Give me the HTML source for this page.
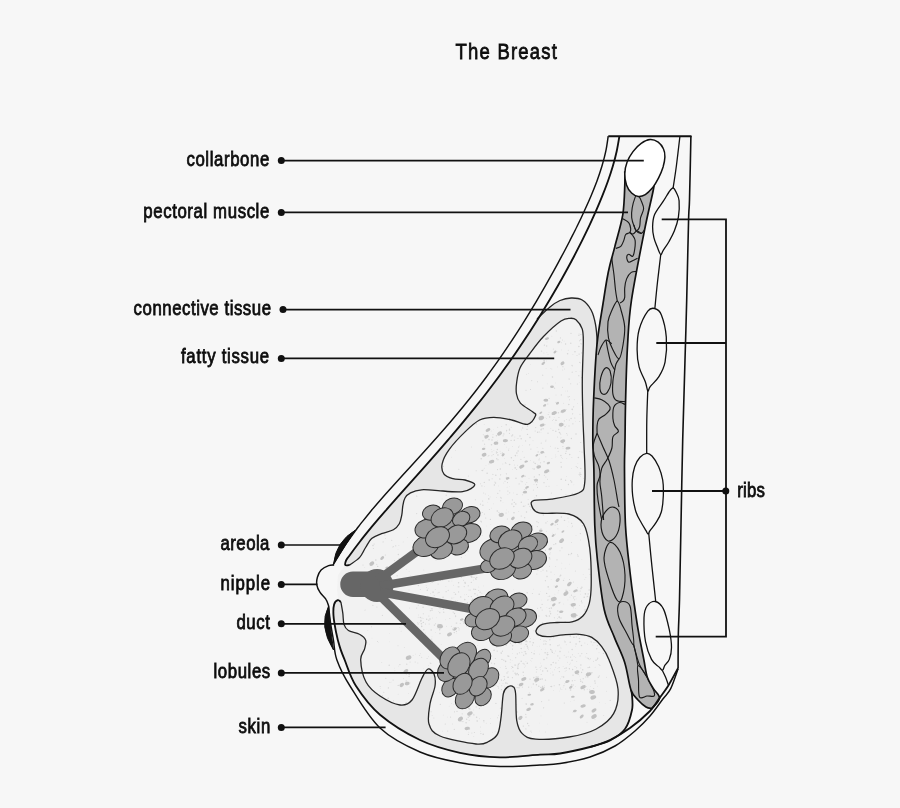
<!DOCTYPE html>
<html><head><meta charset="utf-8"><style>
html,body{margin:0;padding:0;background:#f7f7f7;}
svg{display:block;filter:grayscale(1);}
text{font-family:"Liberation Sans",sans-serif;}
</style></head><body>
<svg width="900" height="808" viewBox="0 0 900 808">
<defs><clipPath id="fatclip"><path d="M349.8,564.9 C351.4,563.6 357.1,560.3 359.7,557.4 C362.3,554.5 363.6,550.6 365.6,547.5 C367.6,544.4 369.0,540.9 371.6,538.6 C374.2,536.3 377.9,535.2 381.5,533.7 C385.1,532.2 390.4,531.4 393.4,529.7 C396.4,528.1 397.9,526.3 399.3,523.8 C400.7,521.3 401.2,517.9 401.8,514.9 C402.4,511.9 402.3,508.7 402.8,505.9 C403.3,503.1 403.7,500.2 405.0,498.0 C406.3,495.8 407.7,494.3 410.5,492.9 C413.3,491.5 417.5,490.2 421.6,489.8 C425.7,489.4 428.2,490.1 435.0,490.4 C441.8,490.7 456.0,492.6 462.6,491.7 C469.2,490.8 474.4,486.8 474.8,484.8 C475.2,482.9 468.6,481.0 465.0,480.0 C461.4,479.0 456.4,479.7 452.9,478.7 C449.4,477.7 445.8,476.7 444.0,474.2 C442.2,471.7 441.3,467.8 442.2,463.6 C443.1,459.5 445.4,454.6 449.3,449.3 C453.2,444.0 460.2,436.5 465.3,431.6 C470.4,426.7 474.9,422.4 479.6,420.0 C484.4,417.6 488.5,417.3 493.8,417.3 C499.1,417.3 506.0,418.8 511.6,420.0 C517.2,421.2 523.6,425.1 527.6,424.4 C531.6,423.7 534.7,417.7 535.6,415.6 C536.5,413.5 535.4,414.1 532.9,412.0 C530.4,409.9 523.1,406.1 520.4,403.1 C517.7,400.1 517.1,397.5 516.5,394.0 C515.9,390.5 516.1,386.3 516.7,382.0 C517.3,377.7 517.9,372.7 520.0,368.0 C522.1,363.3 525.6,359.2 529.5,354.0 C533.4,348.8 538.2,342.0 543.5,336.5 C548.8,331.0 556.6,324.0 561.0,321.0 C565.4,318.0 567.5,318.5 570.0,318.3 C572.5,318.1 574.0,318.0 576.0,319.8 C578.0,321.6 581.0,325.2 582.2,328.9 C583.4,332.6 583.3,333.4 583.3,342.2 C583.3,351.0 582.3,368.9 582.3,381.9 C582.2,394.9 582.7,409.5 583.0,420.0 C583.3,430.5 583.7,434.5 584.0,444.8 C584.3,455.1 585.7,473.9 584.8,481.9 C583.9,489.9 584.2,490.1 578.6,493.0 C573.0,495.9 558.8,498.0 551.4,499.2 C544.0,500.4 537.3,499.4 534.0,500.4 C530.7,501.4 530.8,503.3 531.6,505.4 C532.4,507.5 532.8,511.4 539.0,512.8 C545.2,514.2 561.3,512.1 568.7,514.0 C576.1,515.9 580.1,518.2 583.6,524.0 C587.1,529.8 588.5,538.6 589.8,548.7 C591.1,558.8 591.3,575.7 591.2,584.8 C591.1,593.9 590.6,598.1 589.3,603.3 C587.9,608.4 586.0,612.6 583.1,615.7 C580.2,618.8 576.3,620.8 572.0,621.9 C567.7,623.0 562.1,622.1 557.1,622.5 C552.1,622.9 545.8,623.1 542.3,624.4 C538.8,625.7 536.7,628.8 536.1,630.5 C535.5,632.2 536.8,633.9 538.6,634.9 C540.5,635.9 543.1,636.7 547.2,636.7 C551.3,636.7 557.9,635.3 563.3,634.9 C568.7,634.5 574.6,633.9 579.4,634.3 C584.1,634.7 588.1,635.3 591.8,637.4 C595.5,639.5 598.8,642.8 601.7,646.6 C604.6,650.4 606.4,652.9 609.1,660.0 C611.8,667.1 617.2,680.1 618.0,689.0 C618.8,697.9 617.3,706.9 613.6,713.6 C609.9,720.3 603.2,725.3 595.8,729.2 C588.4,733.1 579.0,735.3 569.0,737.0 C559.0,738.7 543.5,739.8 535.7,739.2 C527.9,738.6 525.5,736.8 522.3,733.6 C519.1,730.5 517.8,727.0 516.7,720.3 C515.6,713.6 516.2,699.1 515.6,693.5 C515.0,687.9 514.7,688.0 513.4,686.9 C512.1,685.8 509.5,685.8 507.8,686.9 C506.1,688.0 504.5,688.7 503.4,693.5 C502.3,698.3 502.1,709.1 501.2,715.8 C500.3,722.5 499.9,729.3 497.8,733.6 C495.8,737.9 492.5,739.7 488.9,741.4 C485.3,743.1 484.1,744.9 476.0,744.0 C467.9,743.1 447.8,739.3 440.0,736.0 C432.2,732.7 430.7,729.3 429.0,724.0 C427.3,718.7 429.0,710.3 430.0,704.0 C431.0,697.7 434.3,691.0 435.0,686.0 C435.7,681.0 435.2,676.8 434.0,674.0 C432.8,671.2 430.0,668.3 428.0,669.0 C426.0,669.7 424.7,672.8 422.0,678.0 C419.3,683.2 415.7,695.5 412.0,700.0 C408.3,704.5 405.3,705.7 400.0,705.0 C394.7,704.3 385.7,699.8 380.0,696.0 C374.3,692.2 369.2,688.0 366.0,682.0 C362.8,676.0 360.9,665.5 360.7,660.0 C360.4,654.5 363.7,652.4 364.5,649.1 C365.3,645.8 366.5,642.9 365.7,640.4 C364.9,637.9 362.4,635.9 359.5,634.3 C356.6,632.6 351.0,632.1 348.4,630.5 C345.8,628.9 344.9,627.3 344.0,624.4 C343.1,621.5 343.3,616.9 342.8,613.2 C342.3,609.5 341.2,603.9 340.9,602.0 L338,598 L337,590 L338,575 L345.3,565 Z"/></clipPath><clipPath id="pecclip"><path d="M624.8,172.0 C624.8,174.2 625.1,177.9 624.8,185.0 C624.5,192.1 624.4,204.5 622.8,214.7 C621.1,224.9 617.0,238.0 614.9,246.4 C612.8,254.8 611.2,259.4 609.9,265.0 C608.5,270.6 607.8,274.2 606.8,280.0 C605.8,285.8 605.2,289.3 603.6,300.0 C602.0,310.7 598.7,327.7 597.0,344.4 C595.3,361.1 594.3,384.1 593.6,400.0 C592.9,415.9 592.8,428.3 592.8,440.0 C592.8,451.7 593.6,455.7 593.9,470.0 C594.2,484.3 594.2,510.7 594.8,525.7 C595.4,540.7 595.8,546.0 597.4,560.0 C599.0,574.0 601.4,596.6 604.2,609.5 C607.0,622.4 610.9,628.3 614.3,637.1 C617.7,645.9 621.9,653.6 624.7,662.4 C627.5,671.2 628.8,683.7 631.0,690.0 C633.2,696.3 635.5,697.2 638.0,700.0 C640.5,702.8 643.7,705.6 646.0,707.0 C648.3,708.4 651.0,708.2 652.0,708.5  C653.2,706.8 659.3,701.4 659.5,698.1 C659.7,694.8 655.4,692.1 653.4,688.6 C651.4,685.1 648.9,682.1 647.3,677.3 C645.7,672.5 645.4,667.9 643.9,660.0 C642.4,652.1 639.8,639.7 638.1,629.7 C636.4,619.7 635.0,609.6 633.6,600.0 C632.2,590.4 631.4,584.4 630.0,572.0 C628.6,559.6 626.4,542.7 625.5,525.7 C624.6,508.7 624.6,484.3 624.5,470.0 C624.4,455.7 624.8,451.7 625.0,440.0 C625.2,428.3 625.2,415.9 625.6,400.0 C626.0,384.1 626.6,361.1 627.6,344.4 C628.6,327.7 628.7,318.9 631.5,300.0 C634.3,281.1 640.8,249.1 644.4,230.8 C648.0,212.5 651.4,199.8 653.3,190.0 C655.2,180.2 655.5,175.0 656.0,172.0Z"/></clipPath></defs>
<rect x="0" y="0" width="900" height="808" fill="#f7f7f7"/>
<path d="M530.2,331.2 C528.5,333.7 523.6,341.2 520.2,346.2 C516.9,351.2 513.4,356.2 509.9,361.2 C506.3,366.2 502.7,371.2 499.1,376.2 C495.4,381.2 491.6,386.2 487.8,391.2 C484.0,396.2 480.1,401.2 476.1,406.2 C472.1,411.2 468.0,416.2 463.9,421.2 C459.8,426.2 455.6,431.2 451.3,436.2 C447.1,441.2 442.7,446.2 438.4,451.2 C434.0,456.2 429.6,461.2 425.2,466.2 C420.7,471.2 416.3,476.2 411.8,481.2 C407.3,486.2 402.8,491.2 398.4,496.2 C394.0,501.2 389.5,506.2 385.2,511.2 C380.8,516.2 376.5,521.2 372.3,526.2 C368.2,531.2 364.1,536.2 360.2,541.2 C356.3,546.2 351.3,553.0 349.0,556.2 C346.6,559.4 346.6,559.7 346.1,560.4 L345.3,565 L337.8,600.2  C337.2,600.9 334.8,602.0 334.1,604.6 C333.4,607.2 333.2,611.2 333.5,615.7 C333.8,620.2 335.0,626.6 336.0,631.8 C337.0,636.9 338.2,641.9 339.7,646.6 C341.1,651.3 342.0,653.4 344.7,660.0 C347.4,666.6 350.1,676.9 356.0,686.0 C361.9,695.1 369.3,705.7 380.0,714.7 C390.7,723.7 406.7,733.6 420.0,740.0 C433.3,746.4 446.7,749.9 460.0,752.8 C473.3,755.7 486.7,757.0 500.0,757.3 C513.3,757.6 530.0,755.3 540.0,754.7 C550.0,754.1 551.7,754.8 560.0,753.5 C568.3,752.2 585.0,748.1 590.0,747.0  C593.3,745.9 604.2,743.5 610.0,740.5 C615.8,737.5 621.3,734.1 625.0,729.0 C628.7,723.9 630.8,715.7 632.0,710.0 C633.2,704.3 632.2,698.3 632.0,695.0 C631.8,691.7 631.2,690.8 631.0,690.0 L624.7,662.4 L614.3,637.1 L604.2,609.5 L597.4,560 L594.8,525.7 L593.9,470 L592.8,440 L593.6,400 L596.8,352  C596.9,350.4 597.4,346.8 597.2,342.2 C597.0,337.6 596.5,329.8 595.5,324.4 C594.5,319.0 593.3,314.1 591.1,310.0 C588.9,305.9 585.5,302.0 582.2,300.0 C578.9,298.0 574.9,297.9 571.2,298.0 C567.5,298.1 563.5,299.0 560.0,300.5 C556.5,302.0 553.8,303.9 550.0,307.0 C546.2,310.1 539.2,317.0 537.0,319.0Z" fill="#e6e6e6"/>
<path d="M349.8,564.9 C351.4,563.6 357.1,560.3 359.7,557.4 C362.3,554.5 363.6,550.6 365.6,547.5 C367.6,544.4 369.0,540.9 371.6,538.6 C374.2,536.3 377.9,535.2 381.5,533.7 C385.1,532.2 390.4,531.4 393.4,529.7 C396.4,528.1 397.9,526.3 399.3,523.8 C400.7,521.3 401.2,517.9 401.8,514.9 C402.4,511.9 402.3,508.7 402.8,505.9 C403.3,503.1 403.7,500.2 405.0,498.0 C406.3,495.8 407.7,494.3 410.5,492.9 C413.3,491.5 417.5,490.2 421.6,489.8 C425.7,489.4 428.2,490.1 435.0,490.4 C441.8,490.7 456.0,492.6 462.6,491.7 C469.2,490.8 474.4,486.8 474.8,484.8 C475.2,482.9 468.6,481.0 465.0,480.0 C461.4,479.0 456.4,479.7 452.9,478.7 C449.4,477.7 445.8,476.7 444.0,474.2 C442.2,471.7 441.3,467.8 442.2,463.6 C443.1,459.5 445.4,454.6 449.3,449.3 C453.2,444.0 460.2,436.5 465.3,431.6 C470.4,426.7 474.9,422.4 479.6,420.0 C484.4,417.6 488.5,417.3 493.8,417.3 C499.1,417.3 506.0,418.8 511.6,420.0 C517.2,421.2 523.6,425.1 527.6,424.4 C531.6,423.7 534.7,417.7 535.6,415.6 C536.5,413.5 535.4,414.1 532.9,412.0 C530.4,409.9 523.1,406.1 520.4,403.1 C517.7,400.1 517.1,397.5 516.5,394.0 C515.9,390.5 516.1,386.3 516.7,382.0 C517.3,377.7 517.9,372.7 520.0,368.0 C522.1,363.3 525.6,359.2 529.5,354.0 C533.4,348.8 538.2,342.0 543.5,336.5 C548.8,331.0 556.6,324.0 561.0,321.0 C565.4,318.0 567.5,318.5 570.0,318.3 C572.5,318.1 574.0,318.0 576.0,319.8 C578.0,321.6 581.0,325.2 582.2,328.9 C583.4,332.6 583.3,333.4 583.3,342.2 C583.3,351.0 582.3,368.9 582.3,381.9 C582.2,394.9 582.7,409.5 583.0,420.0 C583.3,430.5 583.7,434.5 584.0,444.8 C584.3,455.1 585.7,473.9 584.8,481.9 C583.9,489.9 584.2,490.1 578.6,493.0 C573.0,495.9 558.8,498.0 551.4,499.2 C544.0,500.4 537.3,499.4 534.0,500.4 C530.7,501.4 530.8,503.3 531.6,505.4 C532.4,507.5 532.8,511.4 539.0,512.8 C545.2,514.2 561.3,512.1 568.7,514.0 C576.1,515.9 580.1,518.2 583.6,524.0 C587.1,529.8 588.5,538.6 589.8,548.7 C591.1,558.8 591.3,575.7 591.2,584.8 C591.1,593.9 590.6,598.1 589.3,603.3 C587.9,608.4 586.0,612.6 583.1,615.7 C580.2,618.8 576.3,620.8 572.0,621.9 C567.7,623.0 562.1,622.1 557.1,622.5 C552.1,622.9 545.8,623.1 542.3,624.4 C538.8,625.7 536.7,628.8 536.1,630.5 C535.5,632.2 536.8,633.9 538.6,634.9 C540.5,635.9 543.1,636.7 547.2,636.7 C551.3,636.7 557.9,635.3 563.3,634.9 C568.7,634.5 574.6,633.9 579.4,634.3 C584.1,634.7 588.1,635.3 591.8,637.4 C595.5,639.5 598.8,642.8 601.7,646.6 C604.6,650.4 606.4,652.9 609.1,660.0 C611.8,667.1 617.2,680.1 618.0,689.0 C618.8,697.9 617.3,706.9 613.6,713.6 C609.9,720.3 603.2,725.3 595.8,729.2 C588.4,733.1 579.0,735.3 569.0,737.0 C559.0,738.7 543.5,739.8 535.7,739.2 C527.9,738.6 525.5,736.8 522.3,733.6 C519.1,730.5 517.8,727.0 516.7,720.3 C515.6,713.6 516.2,699.1 515.6,693.5 C515.0,687.9 514.7,688.0 513.4,686.9 C512.1,685.8 509.5,685.8 507.8,686.9 C506.1,688.0 504.5,688.7 503.4,693.5 C502.3,698.3 502.1,709.1 501.2,715.8 C500.3,722.5 499.9,729.3 497.8,733.6 C495.8,737.9 492.5,739.7 488.9,741.4 C485.3,743.1 484.1,744.9 476.0,744.0 C467.9,743.1 447.8,739.3 440.0,736.0 C432.2,732.7 430.7,729.3 429.0,724.0 C427.3,718.7 429.0,710.3 430.0,704.0 C431.0,697.7 434.3,691.0 435.0,686.0 C435.7,681.0 435.2,676.8 434.0,674.0 C432.8,671.2 430.0,668.3 428.0,669.0 C426.0,669.7 424.7,672.8 422.0,678.0 C419.3,683.2 415.7,695.5 412.0,700.0 C408.3,704.5 405.3,705.7 400.0,705.0 C394.7,704.3 385.7,699.8 380.0,696.0 C374.3,692.2 369.2,688.0 366.0,682.0 C362.8,676.0 360.9,665.5 360.7,660.0 C360.4,654.5 363.7,652.4 364.5,649.1 C365.3,645.8 366.5,642.9 365.7,640.4 C364.9,637.9 362.4,635.9 359.5,634.3 C356.6,632.6 351.0,632.1 348.4,630.5 C345.8,628.9 344.9,627.3 344.0,624.4 C343.1,621.5 343.3,616.9 342.8,613.2 C342.3,609.5 341.2,603.9 340.9,602.0 L338,598 L337,590 L338,575 L345.3,565 Z" fill="#f2f2f2"/>
<g fill="#d6d6d6" clip-path="url(#fatclip)"><circle cx="566.2" cy="657.1" r="0.59"/><circle cx="542.6" cy="686.5" r="0.66"/><circle cx="586.4" cy="686.5" r="0.47"/><circle cx="551.5" cy="686.6" r="0.73"/><circle cx="505.1" cy="637.3" r="0.55"/><circle cx="498.0" cy="644.4" r="0.38"/><circle cx="563.6" cy="677.0" r="0.75"/><circle cx="507.0" cy="673.0" r="0.65"/><circle cx="505.7" cy="683.0" r="0.79"/><circle cx="514.2" cy="687.2" r="0.53"/><circle cx="543.6" cy="689.4" r="0.72"/><circle cx="507.8" cy="655.9" r="0.58"/><circle cx="527.3" cy="641.7" r="0.49"/><circle cx="569.4" cy="631.2" r="0.60"/><circle cx="538.5" cy="631.1" r="0.50"/><circle cx="558.6" cy="660.7" r="0.38"/><circle cx="598.4" cy="677.3" r="0.79"/><circle cx="501.5" cy="645.9" r="0.37"/><circle cx="575.7" cy="646.2" r="0.41"/><circle cx="536.4" cy="684.7" r="0.72"/><circle cx="518.4" cy="639.0" r="0.76"/><circle cx="552.8" cy="672.0" r="0.39"/><circle cx="496.3" cy="671.3" r="0.54"/><circle cx="498.0" cy="686.3" r="0.64"/><circle cx="578.2" cy="635.0" r="0.74"/><circle cx="497.3" cy="681.8" r="0.55"/><circle cx="527.3" cy="663.2" r="0.77"/><circle cx="519.5" cy="637.8" r="0.59"/><circle cx="516.2" cy="636.6" r="0.42"/><circle cx="495.5" cy="642.1" r="0.49"/><circle cx="523.6" cy="675.6" r="0.48"/><circle cx="545.0" cy="640.7" r="0.51"/><circle cx="492.0" cy="645.0" r="0.36"/><circle cx="570.6" cy="663.1" r="0.44"/><circle cx="542.2" cy="686.1" r="0.40"/><circle cx="580.1" cy="655.9" r="0.57"/><circle cx="581.8" cy="653.6" r="0.58"/><circle cx="565.7" cy="688.9" r="0.50"/><circle cx="581.6" cy="672.4" r="0.64"/><circle cx="534.5" cy="650.9" r="0.37"/><circle cx="504.3" cy="634.2" r="0.68"/><circle cx="518.1" cy="639.8" r="0.39"/><circle cx="582.5" cy="682.2" r="0.65"/><circle cx="521.0" cy="644.5" r="0.48"/><circle cx="540.5" cy="639.5" r="0.55"/><circle cx="519.0" cy="687.7" r="0.79"/><circle cx="550.2" cy="644.7" r="0.78"/><circle cx="524.1" cy="651.4" r="0.35"/><circle cx="532.0" cy="658.5" r="0.58"/><circle cx="512.1" cy="660.3" r="0.35"/><circle cx="519.1" cy="635.4" r="0.53"/><circle cx="494.6" cy="631.3" r="0.49"/><circle cx="515.6" cy="665.1" r="0.59"/><circle cx="572.6" cy="669.5" r="0.67"/><circle cx="586.7" cy="653.4" r="0.50"/><circle cx="598.3" cy="639.0" r="0.68"/><circle cx="560.8" cy="632.6" r="0.73"/><circle cx="588.1" cy="667.6" r="0.68"/><circle cx="579.3" cy="638.4" r="0.59"/><circle cx="545.5" cy="680.1" r="0.71"/><circle cx="580.9" cy="665.0" r="0.75"/><circle cx="565.1" cy="671.6" r="0.45"/><circle cx="493.4" cy="638.0" r="0.51"/><circle cx="501.5" cy="680.1" r="0.60"/><circle cx="559.1" cy="667.6" r="0.66"/><circle cx="543.8" cy="630.2" r="0.71"/><circle cx="572.3" cy="660.2" r="0.59"/><circle cx="562.5" cy="634.0" r="0.68"/><circle cx="517.7" cy="634.5" r="0.47"/><circle cx="570.2" cy="642.3" r="0.68"/><circle cx="597.3" cy="659.6" r="0.52"/><circle cx="542.7" cy="671.0" r="0.70"/><circle cx="557.9" cy="668.6" r="0.38"/><circle cx="506.2" cy="645.2" r="0.68"/><circle cx="523.5" cy="664.1" r="0.36"/><circle cx="496.7" cy="646.1" r="0.65"/><circle cx="566.1" cy="670.5" r="0.48"/><circle cx="546.8" cy="657.9" r="0.56"/><circle cx="503.0" cy="683.6" r="0.44"/><circle cx="597.6" cy="686.2" r="0.36"/><circle cx="540.5" cy="679.2" r="0.79"/><circle cx="539.4" cy="646.1" r="0.44"/><circle cx="594.0" cy="642.6" r="0.61"/><circle cx="505.6" cy="661.4" r="0.78"/><circle cx="504.6" cy="679.2" r="0.58"/><circle cx="587.6" cy="672.2" r="0.45"/><circle cx="588.7" cy="659.2" r="0.36"/><circle cx="490.4" cy="659.5" r="0.55"/><circle cx="523.2" cy="638.4" r="0.50"/><circle cx="524.8" cy="680.4" r="0.35"/><circle cx="572.6" cy="680.3" r="0.40"/><circle cx="591.9" cy="672.8" r="0.76"/><circle cx="521.9" cy="652.3" r="0.53"/><circle cx="599.9" cy="665.4" r="0.51"/><circle cx="537.1" cy="646.5" r="0.37"/><circle cx="501.2" cy="680.1" r="0.48"/><circle cx="592.9" cy="645.0" r="0.47"/><circle cx="546.2" cy="641.4" r="0.52"/><circle cx="595.2" cy="683.1" r="0.72"/><circle cx="559.4" cy="684.8" r="0.77"/><circle cx="550.4" cy="673.2" r="0.37"/><circle cx="570.6" cy="657.1" r="0.69"/><circle cx="560.9" cy="647.2" r="0.37"/><circle cx="591.9" cy="637.6" r="0.56"/><circle cx="527.8" cy="647.9" r="0.68"/><circle cx="597.4" cy="645.6" r="0.65"/><circle cx="523.1" cy="663.4" r="0.53"/><circle cx="508.4" cy="639.7" r="0.44"/><circle cx="589.7" cy="659.8" r="0.45"/><circle cx="589.7" cy="689.8" r="0.55"/><circle cx="505.4" cy="641.5" r="0.39"/><circle cx="527.6" cy="635.5" r="0.46"/><circle cx="518.4" cy="664.2" r="0.75"/><circle cx="572.5" cy="654.8" r="0.54"/><circle cx="547.7" cy="652.6" r="0.50"/><circle cx="496.8" cy="646.7" r="0.79"/><circle cx="503.8" cy="660.2" r="0.63"/><circle cx="584.9" cy="643.0" r="0.47"/><circle cx="517.3" cy="654.0" r="0.55"/><circle cx="594.9" cy="680.9" r="0.74"/><circle cx="492.4" cy="631.9" r="0.67"/><circle cx="588.5" cy="658.4" r="0.61"/><circle cx="490.0" cy="653.5" r="0.77"/><circle cx="580.8" cy="681.3" r="0.79"/><circle cx="517.3" cy="636.5" r="0.42"/><circle cx="547.5" cy="670.9" r="0.77"/><circle cx="569.4" cy="668.8" r="0.69"/><circle cx="540.3" cy="663.1" r="0.37"/><circle cx="576.1" cy="644.0" r="0.76"/><circle cx="561.0" cy="648.2" r="0.41"/><circle cx="517.7" cy="668.2" r="0.66"/><circle cx="502.3" cy="634.2" r="0.59"/><circle cx="554.1" cy="653.3" r="0.45"/><circle cx="556.1" cy="630.6" r="0.49"/><circle cx="540.7" cy="687.5" r="0.64"/><circle cx="587.2" cy="658.5" r="0.46"/><circle cx="517.2" cy="687.6" r="0.67"/><circle cx="523.8" cy="631.3" r="0.57"/><circle cx="564.2" cy="655.2" r="0.47"/><circle cx="563.4" cy="685.5" r="0.45"/><circle cx="493.8" cy="650.3" r="0.54"/><circle cx="565.1" cy="641.9" r="0.71"/><circle cx="571.3" cy="660.3" r="0.44"/><circle cx="596.7" cy="648.7" r="0.72"/><circle cx="515.4" cy="643.3" r="0.69"/><circle cx="522.4" cy="687.1" r="0.57"/><circle cx="510.6" cy="643.4" r="0.54"/><circle cx="563.2" cy="686.9" r="0.42"/><circle cx="533.3" cy="642.8" r="0.79"/><circle cx="505.6" cy="633.1" r="0.38"/><circle cx="533.3" cy="683.9" r="0.75"/><circle cx="570.6" cy="689.9" r="0.77"/><circle cx="526.2" cy="641.1" r="0.77"/><circle cx="572.1" cy="631.9" r="0.65"/><circle cx="531.6" cy="652.4" r="0.50"/><circle cx="508.6" cy="630.2" r="0.48"/><circle cx="528.7" cy="687.3" r="0.41"/><circle cx="596.1" cy="642.4" r="0.51"/><circle cx="580.4" cy="679.3" r="0.54"/><circle cx="495.4" cy="658.4" r="0.52"/><circle cx="591.1" cy="641.6" r="0.51"/><circle cx="588.7" cy="631.8" r="0.53"/><circle cx="579.3" cy="676.0" r="0.37"/><circle cx="493.8" cy="633.8" r="0.76"/><circle cx="518.3" cy="674.8" r="0.75"/><circle cx="527.3" cy="646.3" r="0.78"/><circle cx="557.9" cy="645.7" r="0.67"/><circle cx="524.8" cy="646.5" r="0.35"/><circle cx="573.1" cy="685.0" r="0.64"/><circle cx="593.8" cy="631.5" r="0.46"/><circle cx="542.3" cy="687.4" r="0.78"/><circle cx="532.5" cy="645.1" r="0.54"/><circle cx="544.3" cy="685.7" r="0.43"/><circle cx="578.3" cy="674.3" r="0.72"/><circle cx="575.0" cy="666.4" r="0.50"/><circle cx="525.2" cy="651.7" r="0.70"/><circle cx="498.7" cy="641.8" r="0.69"/><circle cx="517.2" cy="633.9" r="0.37"/><circle cx="550.8" cy="649.5" r="0.79"/><circle cx="587.2" cy="689.3" r="0.47"/><circle cx="499.2" cy="635.8" r="0.57"/><circle cx="568.1" cy="656.8" r="0.46"/><circle cx="535.9" cy="667.2" r="0.65"/><circle cx="572.3" cy="680.8" r="0.65"/><circle cx="503.3" cy="680.5" r="0.48"/><circle cx="552.4" cy="652.4" r="0.68"/><circle cx="511.9" cy="644.8" r="0.46"/><circle cx="506.9" cy="683.1" r="0.61"/><circle cx="525.9" cy="653.8" r="0.80"/><circle cx="545.8" cy="643.9" r="0.71"/><circle cx="561.9" cy="689.5" r="0.40"/><circle cx="542.2" cy="679.1" r="0.73"/><circle cx="590.6" cy="632.4" r="0.48"/><circle cx="503.1" cy="641.4" r="0.79"/><circle cx="554.2" cy="685.8" r="0.52"/><circle cx="585.3" cy="656.9" r="0.47"/><circle cx="575.6" cy="686.7" r="0.40"/><circle cx="555.6" cy="667.2" r="0.45"/><circle cx="530.6" cy="638.5" r="0.44"/><circle cx="518.0" cy="666.0" r="0.64"/><circle cx="512.4" cy="630.7" r="0.50"/><circle cx="564.6" cy="641.1" r="0.49"/><circle cx="512.4" cy="677.7" r="0.60"/><circle cx="497.0" cy="636.1" r="0.53"/><circle cx="550.5" cy="668.4" r="0.39"/><circle cx="508.0" cy="671.7" r="0.53"/><circle cx="521.2" cy="648.5" r="0.78"/><circle cx="524.4" cy="664.0" r="0.51"/><circle cx="535.8" cy="681.9" r="0.80"/><circle cx="530.0" cy="641.8" r="0.68"/><circle cx="512.4" cy="630.4" r="0.76"/><circle cx="536.6" cy="679.2" r="0.53"/><circle cx="587.1" cy="657.7" r="0.42"/><circle cx="491.6" cy="663.1" r="0.64"/><circle cx="590.1" cy="635.3" r="0.63"/><circle cx="530.8" cy="660.3" r="0.42"/><circle cx="521.2" cy="661.3" r="0.77"/><circle cx="502.0" cy="659.4" r="0.71"/><circle cx="596.4" cy="641.8" r="0.41"/><circle cx="593.7" cy="688.5" r="0.57"/><circle cx="495.9" cy="685.6" r="0.52"/><circle cx="589.5" cy="667.2" r="0.72"/><circle cx="507.6" cy="677.1" r="0.45"/><circle cx="534.5" cy="680.8" r="0.72"/><circle cx="510.1" cy="643.1" r="0.53"/><circle cx="547.0" cy="653.0" r="0.41"/><circle cx="517.2" cy="673.5" r="0.75"/><circle cx="494.5" cy="663.7" r="0.69"/><circle cx="494.2" cy="680.3" r="0.40"/><circle cx="555.9" cy="663.0" r="0.63"/><circle cx="523.7" cy="655.2" r="0.61"/><circle cx="536.8" cy="669.5" r="0.55"/><circle cx="538.2" cy="631.4" r="0.63"/><circle cx="543.8" cy="644.1" r="0.69"/><circle cx="575.8" cy="657.5" r="0.43"/><circle cx="542.1" cy="636.4" r="0.41"/><circle cx="537.4" cy="635.5" r="0.55"/><circle cx="546.1" cy="632.4" r="0.64"/><circle cx="499.0" cy="674.0" r="0.70"/><circle cx="546.3" cy="633.3" r="0.58"/><circle cx="531.6" cy="687.1" r="0.41"/><circle cx="584.3" cy="689.8" r="0.68"/><circle cx="579.6" cy="641.6" r="0.79"/><circle cx="544.1" cy="687.4" r="0.76"/><circle cx="508.2" cy="677.3" r="0.77"/><circle cx="497.2" cy="651.1" r="0.69"/><circle cx="507.5" cy="683.8" r="0.47"/><circle cx="579.7" cy="638.6" r="0.58"/><circle cx="591.2" cy="642.5" r="0.47"/><circle cx="545.7" cy="649.1" r="0.37"/><circle cx="510.0" cy="639.7" r="0.77"/><circle cx="564.8" cy="683.7" r="0.43"/><circle cx="576.3" cy="636.9" r="0.59"/><circle cx="560.0" cy="651.6" r="0.74"/><circle cx="551.1" cy="664.8" r="0.75"/><circle cx="501.5" cy="689.6" r="0.63"/><circle cx="533.4" cy="677.9" r="0.47"/><circle cx="599.0" cy="664.6" r="0.51"/><circle cx="574.1" cy="656.5" r="0.43"/><circle cx="571.8" cy="632.9" r="0.72"/><circle cx="517.9" cy="668.4" r="0.79"/><circle cx="554.4" cy="669.8" r="0.49"/><circle cx="490.2" cy="632.0" r="0.42"/><circle cx="557.8" cy="655.9" r="0.58"/><circle cx="588.5" cy="637.9" r="0.45"/><circle cx="561.8" cy="631.3" r="0.35"/><circle cx="529.0" cy="636.4" r="0.51"/><circle cx="514.7" cy="665.0" r="0.62"/><circle cx="512.5" cy="667.4" r="0.56"/><circle cx="504.8" cy="686.2" r="0.46"/><circle cx="506.4" cy="635.7" r="0.64"/><circle cx="585.8" cy="676.9" r="0.53"/><circle cx="519.1" cy="630.7" r="0.64"/><circle cx="551.9" cy="651.0" r="0.64"/><circle cx="538.8" cy="686.2" r="0.68"/><circle cx="517.3" cy="684.2" r="0.37"/><circle cx="548.5" cy="654.4" r="0.46"/><circle cx="496.4" cy="676.7" r="0.36"/><circle cx="550.6" cy="686.5" r="0.41"/><circle cx="511.9" cy="666.5" r="0.58"/><circle cx="560.6" cy="678.8" r="0.43"/><circle cx="524.0" cy="648.0" r="0.37"/><circle cx="587.8" cy="677.0" r="0.67"/><circle cx="490.7" cy="680.7" r="0.69"/><circle cx="541.2" cy="674.5" r="0.55"/><circle cx="514.9" cy="636.3" r="0.45"/><circle cx="494.3" cy="650.1" r="0.69"/><circle cx="566.5" cy="680.7" r="0.67"/><circle cx="519.3" cy="663.2" r="0.55"/><circle cx="576.7" cy="661.4" r="0.47"/><circle cx="560.6" cy="687.9" r="0.45"/><circle cx="586.8" cy="630.9" r="0.47"/><circle cx="516.0" cy="674.6" r="0.78"/><circle cx="572.1" cy="649.6" r="0.75"/><circle cx="526.1" cy="644.4" r="0.76"/><circle cx="559.4" cy="671.6" r="0.65"/><circle cx="597.7" cy="658.2" r="0.73"/><circle cx="566.7" cy="681.5" r="0.55"/><circle cx="569.7" cy="664.2" r="0.49"/><circle cx="513.3" cy="667.4" r="0.39"/><circle cx="590.2" cy="638.7" r="0.36"/><circle cx="501.7" cy="685.7" r="0.51"/><circle cx="505.6" cy="631.7" r="0.37"/><circle cx="566.2" cy="668.0" r="0.66"/><circle cx="571.0" cy="633.9" r="0.62"/><circle cx="530.0" cy="679.1" r="0.72"/><circle cx="588.0" cy="634.0" r="0.74"/><circle cx="590.6" cy="686.7" r="0.40"/><circle cx="512.6" cy="636.7" r="0.37"/><circle cx="583.2" cy="678.7" r="0.64"/><circle cx="580.8" cy="667.9" r="0.48"/><circle cx="501.0" cy="635.9" r="0.69"/><circle cx="512.5" cy="649.1" r="0.54"/><circle cx="492.3" cy="645.4" r="0.48"/><circle cx="568.7" cy="652.1" r="0.49"/><circle cx="596.0" cy="660.2" r="0.73"/><circle cx="558.0" cy="631.9" r="0.54"/><circle cx="538.0" cy="676.4" r="0.51"/><circle cx="567.5" cy="662.3" r="0.45"/><circle cx="584.8" cy="635.5" r="0.72"/><circle cx="508.7" cy="630.1" r="0.44"/><circle cx="573.8" cy="688.7" r="0.35"/><circle cx="544.0" cy="659.5" r="0.71"/><circle cx="510.3" cy="659.7" r="0.51"/><circle cx="581.5" cy="645.6" r="0.77"/><circle cx="521.2" cy="642.9" r="0.66"/><circle cx="544.8" cy="636.6" r="0.64"/><circle cx="498.9" cy="677.3" r="0.66"/><circle cx="576.6" cy="667.7" r="0.51"/><circle cx="534.1" cy="653.7" r="0.75"/><circle cx="499.5" cy="683.3" r="0.36"/><circle cx="512.7" cy="645.8" r="0.76"/><circle cx="545.1" cy="652.8" r="0.75"/><circle cx="515.7" cy="657.7" r="0.59"/><circle cx="573.0" cy="675.2" r="0.64"/><circle cx="528.3" cy="649.6" r="0.42"/><circle cx="582.7" cy="669.7" r="0.68"/><circle cx="508.7" cy="656.3" r="0.70"/><circle cx="553.7" cy="637.6" r="0.56"/><circle cx="587.4" cy="644.3" r="0.44"/><circle cx="523.2" cy="672.2" r="0.73"/><circle cx="507.0" cy="639.4" r="0.46"/><circle cx="525.9" cy="661.3" r="0.42"/><circle cx="526.1" cy="641.4" r="0.79"/><circle cx="570.2" cy="636.1" r="0.78"/><circle cx="501.2" cy="653.1" r="0.79"/><circle cx="577.4" cy="674.0" r="0.55"/><circle cx="511.6" cy="668.3" r="0.40"/><circle cx="512.7" cy="653.3" r="0.37"/><circle cx="533.9" cy="677.5" r="0.66"/><circle cx="545.1" cy="667.9" r="0.56"/><circle cx="505.6" cy="666.2" r="0.53"/><circle cx="571.5" cy="684.5" r="0.54"/><circle cx="553.1" cy="674.9" r="0.54"/><circle cx="515.1" cy="673.3" r="0.75"/><circle cx="575.1" cy="672.0" r="0.73"/><circle cx="564.8" cy="668.5" r="0.55"/><circle cx="524.4" cy="667.7" r="0.39"/><circle cx="536.2" cy="676.9" r="0.67"/><circle cx="559.3" cy="645.0" r="0.54"/><circle cx="540.1" cy="667.3" r="0.53"/><circle cx="564.3" cy="685.8" r="0.43"/><circle cx="562.0" cy="676.7" r="0.52"/><circle cx="543.9" cy="688.5" r="0.37"/><circle cx="549.8" cy="639.7" r="0.70"/><circle cx="593.5" cy="661.2" r="0.40"/><circle cx="553.2" cy="662.5" r="0.67"/><circle cx="546.3" cy="668.4" r="0.72"/><circle cx="547.4" cy="654.6" r="0.78"/><circle cx="513.1" cy="671.1" r="0.53"/><circle cx="573.9" cy="637.3" r="0.79"/><circle cx="529.1" cy="633.4" r="0.47"/><circle cx="534.0" cy="630.8" r="0.54"/><circle cx="536.3" cy="671.9" r="0.51"/><circle cx="519.2" cy="643.5" r="0.68"/><circle cx="593.4" cy="661.6" r="0.45"/><circle cx="578.2" cy="653.5" r="0.45"/><circle cx="504.2" cy="676.6" r="0.71"/><circle cx="559.8" cy="658.1" r="0.60"/><circle cx="514.9" cy="687.8" r="0.51"/><circle cx="456.3" cy="623.1" r="0.72"/><circle cx="446.1" cy="591.7" r="0.60"/><circle cx="425.5" cy="624.0" r="0.51"/><circle cx="469.0" cy="590.0" r="0.52"/><circle cx="433.2" cy="599.6" r="0.43"/><circle cx="418.2" cy="617.3" r="0.48"/><circle cx="432.7" cy="592.1" r="0.57"/><circle cx="443.7" cy="612.2" r="0.65"/><circle cx="439.7" cy="629.7" r="0.73"/><circle cx="421.4" cy="623.7" r="0.76"/><circle cx="465.0" cy="582.4" r="0.72"/><circle cx="456.0" cy="574.9" r="0.36"/><circle cx="475.1" cy="613.4" r="0.46"/><circle cx="424.1" cy="582.6" r="0.46"/><circle cx="464.6" cy="594.8" r="0.42"/><circle cx="472.2" cy="621.5" r="0.43"/><circle cx="471.5" cy="610.5" r="0.70"/><circle cx="458.1" cy="627.6" r="0.70"/><circle cx="468.3" cy="585.8" r="0.66"/><circle cx="449.8" cy="618.5" r="0.55"/><circle cx="471.0" cy="607.3" r="0.47"/><circle cx="432.1" cy="582.4" r="0.57"/><circle cx="421.5" cy="602.0" r="0.41"/><circle cx="447.5" cy="603.9" r="0.59"/><circle cx="469.8" cy="574.4" r="0.73"/><circle cx="446.1" cy="607.8" r="0.65"/><circle cx="468.4" cy="596.5" r="0.54"/><circle cx="475.6" cy="578.5" r="0.64"/><circle cx="456.2" cy="575.7" r="0.62"/><circle cx="459.0" cy="629.9" r="0.50"/><circle cx="476.9" cy="604.6" r="0.57"/><circle cx="471.9" cy="576.0" r="0.67"/><circle cx="455.5" cy="594.3" r="0.74"/><circle cx="440.0" cy="602.5" r="0.59"/><circle cx="464.2" cy="586.6" r="0.55"/><circle cx="443.3" cy="607.2" r="0.72"/><circle cx="435.6" cy="623.7" r="0.53"/><circle cx="448.2" cy="590.3" r="0.58"/><circle cx="476.5" cy="613.3" r="0.71"/><circle cx="437.9" cy="593.0" r="0.48"/><circle cx="453.2" cy="612.1" r="0.70"/><circle cx="420.4" cy="617.4" r="0.75"/><circle cx="450.7" cy="577.0" r="0.49"/><circle cx="418.4" cy="585.4" r="0.76"/><circle cx="454.5" cy="613.5" r="0.71"/><circle cx="472.6" cy="610.7" r="0.63"/><circle cx="455.6" cy="615.8" r="0.62"/><circle cx="458.9" cy="586.8" r="0.65"/><circle cx="445.5" cy="619.8" r="0.40"/><circle cx="428.9" cy="576.2" r="0.70"/><circle cx="472.8" cy="613.3" r="0.52"/><circle cx="467.4" cy="621.2" r="0.60"/><circle cx="433.5" cy="592.1" r="0.54"/><circle cx="437.1" cy="599.8" r="0.64"/><circle cx="474.0" cy="577.3" r="0.61"/><circle cx="420.4" cy="581.1" r="0.71"/><circle cx="452.5" cy="629.1" r="0.55"/><circle cx="418.8" cy="597.2" r="0.62"/><circle cx="474.3" cy="632.8" r="0.56"/><circle cx="442.7" cy="580.1" r="0.64"/><circle cx="430.7" cy="583.1" r="0.36"/><circle cx="418.3" cy="615.0" r="0.40"/><circle cx="476.0" cy="579.3" r="0.74"/><circle cx="425.7" cy="575.1" r="0.67"/><circle cx="432.5" cy="618.0" r="0.43"/><circle cx="421.0" cy="620.4" r="0.67"/><circle cx="469.3" cy="617.8" r="0.39"/><circle cx="455.7" cy="616.6" r="0.56"/><circle cx="473.9" cy="589.2" r="0.78"/><circle cx="461.0" cy="574.7" r="0.36"/><circle cx="457.0" cy="623.0" r="0.39"/><circle cx="436.7" cy="617.8" r="0.42"/><circle cx="469.7" cy="603.2" r="0.38"/><circle cx="440.1" cy="608.5" r="0.55"/><circle cx="458.6" cy="582.7" r="0.71"/><circle cx="439.8" cy="612.7" r="0.63"/><circle cx="443.1" cy="597.1" r="0.70"/><circle cx="474.7" cy="621.1" r="0.61"/><circle cx="435.5" cy="577.6" r="0.79"/><circle cx="460.2" cy="623.6" r="0.50"/><circle cx="454.3" cy="632.6" r="0.72"/><circle cx="454.1" cy="592.5" r="0.54"/><circle cx="471.3" cy="596.6" r="0.66"/><circle cx="454.1" cy="627.8" r="0.71"/><circle cx="435.0" cy="574.1" r="0.47"/><circle cx="443.4" cy="609.2" r="0.72"/><circle cx="471.2" cy="576.5" r="0.72"/><circle cx="466.7" cy="626.0" r="0.61"/><circle cx="434.4" cy="625.1" r="0.71"/><circle cx="459.1" cy="628.8" r="0.51"/><circle cx="423.1" cy="607.2" r="0.71"/><circle cx="430.0" cy="619.0" r="0.77"/><circle cx="432.0" cy="610.4" r="0.65"/><circle cx="445.9" cy="586.4" r="0.46"/><circle cx="463.1" cy="621.5" r="0.56"/><circle cx="423.3" cy="622.4" r="0.70"/><circle cx="432.0" cy="608.8" r="0.75"/><circle cx="471.1" cy="605.3" r="0.56"/><circle cx="453.4" cy="585.3" r="0.44"/><circle cx="428.8" cy="616.1" r="0.51"/><circle cx="451.9" cy="598.1" r="0.58"/><circle cx="426.9" cy="576.7" r="0.80"/><circle cx="440.4" cy="580.4" r="0.63"/><circle cx="465.2" cy="583.4" r="0.62"/><circle cx="438.7" cy="605.2" r="0.36"/><circle cx="420.0" cy="633.4" r="0.74"/><circle cx="447.2" cy="608.0" r="0.47"/><circle cx="464.8" cy="599.6" r="0.78"/><circle cx="464.0" cy="623.1" r="0.78"/><circle cx="433.2" cy="576.3" r="0.44"/><circle cx="428.8" cy="579.0" r="0.37"/><circle cx="451.4" cy="626.2" r="0.56"/><circle cx="474.8" cy="628.6" r="0.38"/><circle cx="453.9" cy="597.8" r="0.40"/><circle cx="475.6" cy="589.4" r="0.60"/><circle cx="456.4" cy="631.4" r="0.65"/><circle cx="441.6" cy="600.9" r="0.42"/><circle cx="475.9" cy="633.5" r="0.45"/><circle cx="420.3" cy="589.4" r="0.51"/><circle cx="472.2" cy="628.3" r="0.73"/><circle cx="420.8" cy="621.2" r="0.67"/><circle cx="456.8" cy="633.1" r="0.38"/><circle cx="426.7" cy="619.3" r="0.77"/><circle cx="458.6" cy="591.9" r="0.62"/><circle cx="463.5" cy="580.3" r="0.50"/><circle cx="433.4" cy="581.4" r="0.57"/><circle cx="428.1" cy="588.3" r="0.41"/><circle cx="458.7" cy="574.8" r="0.67"/><circle cx="429.7" cy="576.2" r="0.77"/><circle cx="431.2" cy="630.0" r="0.74"/><circle cx="471.3" cy="582.4" r="0.55"/><circle cx="423.8" cy="629.7" r="0.73"/><circle cx="455.7" cy="601.1" r="0.50"/><circle cx="467.4" cy="602.7" r="0.63"/><circle cx="426.6" cy="587.3" r="0.38"/><circle cx="460.8" cy="607.2" r="0.42"/><circle cx="470.2" cy="590.0" r="0.54"/><circle cx="427.3" cy="590.3" r="0.73"/><circle cx="438.1" cy="584.1" r="0.57"/><circle cx="437.1" cy="628.2" r="0.40"/><circle cx="476.7" cy="577.4" r="0.75"/><circle cx="458.1" cy="586.7" r="0.56"/><circle cx="435.2" cy="589.5" r="0.44"/><circle cx="439.9" cy="633.5" r="0.80"/><circle cx="473.5" cy="579.9" r="0.48"/><circle cx="471.8" cy="577.4" r="0.68"/><circle cx="435.6" cy="632.7" r="0.36"/><circle cx="466.4" cy="594.5" r="0.41"/><circle cx="418.1" cy="623.9" r="0.59"/><circle cx="429.1" cy="600.1" r="0.76"/><circle cx="431.1" cy="608.3" r="0.41"/><circle cx="428.8" cy="620.2" r="0.67"/><circle cx="429.8" cy="578.8" r="0.39"/><circle cx="454.5" cy="603.7" r="0.47"/><circle cx="430.4" cy="610.7" r="0.67"/><circle cx="466.7" cy="609.0" r="0.44"/><circle cx="421.9" cy="618.0" r="0.53"/><circle cx="461.3" cy="577.3" r="0.71"/><circle cx="438.1" cy="624.5" r="0.74"/><circle cx="447.6" cy="574.9" r="0.76"/><circle cx="446.6" cy="626.3" r="0.47"/><circle cx="429.2" cy="623.9" r="0.52"/><circle cx="427.8" cy="596.3" r="0.62"/><circle cx="418.3" cy="605.2" r="0.55"/><circle cx="448.9" cy="581.2" r="0.67"/><circle cx="467.0" cy="625.9" r="0.49"/><circle cx="460.7" cy="596.9" r="0.69"/><circle cx="421.7" cy="626.4" r="0.78"/><circle cx="447.7" cy="604.8" r="0.59"/><circle cx="450.2" cy="575.2" r="0.79"/><circle cx="503.5" cy="440.1" r="0.40"/><circle cx="506.3" cy="509.9" r="0.36"/><circle cx="490.1" cy="496.9" r="0.44"/><circle cx="481.9" cy="485.9" r="0.61"/><circle cx="534.9" cy="497.3" r="0.40"/><circle cx="571.3" cy="498.9" r="0.37"/><circle cx="492.9" cy="474.3" r="0.58"/><circle cx="509.4" cy="433.4" r="0.53"/><circle cx="494.4" cy="485.1" r="0.74"/><circle cx="495.5" cy="483.0" r="0.69"/><circle cx="497.3" cy="510.9" r="0.77"/><circle cx="520.8" cy="466.3" r="0.73"/><circle cx="535.2" cy="463.5" r="0.77"/><circle cx="561.6" cy="457.2" r="0.46"/><circle cx="515.2" cy="467.9" r="0.79"/><circle cx="564.5" cy="520.4" r="0.72"/><circle cx="569.0" cy="425.9" r="0.58"/><circle cx="580.6" cy="522.8" r="0.46"/><circle cx="524.3" cy="489.6" r="0.51"/><circle cx="535.7" cy="427.6" r="0.54"/><circle cx="533.0" cy="422.3" r="0.41"/><circle cx="581.8" cy="505.4" r="0.77"/><circle cx="546.5" cy="509.0" r="0.75"/><circle cx="572.9" cy="423.8" r="0.64"/><circle cx="507.9" cy="494.6" r="0.47"/><circle cx="536.9" cy="521.7" r="0.63"/><circle cx="506.3" cy="477.2" r="0.55"/><circle cx="579.8" cy="451.6" r="0.49"/><circle cx="548.0" cy="433.2" r="0.62"/><circle cx="580.4" cy="476.5" r="0.47"/><circle cx="529.0" cy="478.7" r="0.42"/><circle cx="493.0" cy="434.5" r="0.48"/><circle cx="522.7" cy="451.7" r="0.46"/><circle cx="489.2" cy="480.1" r="0.73"/><circle cx="544.0" cy="482.7" r="0.64"/><circle cx="501.1" cy="498.1" r="0.56"/><circle cx="537.5" cy="487.4" r="0.56"/><circle cx="512.6" cy="446.6" r="0.45"/><circle cx="533.8" cy="462.1" r="0.61"/><circle cx="481.2" cy="458.8" r="0.74"/><circle cx="505.0" cy="481.2" r="0.57"/><circle cx="509.9" cy="528.6" r="0.48"/><circle cx="561.1" cy="437.4" r="0.38"/><circle cx="571.5" cy="468.4" r="0.38"/><circle cx="520.7" cy="468.4" r="0.68"/><circle cx="491.5" cy="444.8" r="0.78"/><circle cx="557.6" cy="437.0" r="0.50"/><circle cx="517.0" cy="494.3" r="0.63"/><circle cx="569.2" cy="510.3" r="0.58"/><circle cx="557.6" cy="501.8" r="0.69"/><circle cx="529.9" cy="506.3" r="0.67"/><circle cx="576.0" cy="434.0" r="0.74"/><circle cx="480.5" cy="504.2" r="0.61"/><circle cx="532.3" cy="525.9" r="0.61"/><circle cx="523.9" cy="506.2" r="0.74"/><circle cx="543.8" cy="461.8" r="0.55"/><circle cx="528.1" cy="499.5" r="0.48"/><circle cx="521.0" cy="481.1" r="0.52"/><circle cx="513.8" cy="506.6" r="0.73"/><circle cx="532.5" cy="468.8" r="0.43"/><circle cx="511.9" cy="435.9" r="0.61"/><circle cx="541.1" cy="429.7" r="0.76"/><circle cx="514.0" cy="512.8" r="0.73"/><circle cx="580.7" cy="442.5" r="0.54"/><circle cx="575.6" cy="421.2" r="0.37"/><circle cx="539.3" cy="474.7" r="0.76"/><circle cx="561.2" cy="479.2" r="0.80"/><circle cx="534.3" cy="476.9" r="0.66"/><circle cx="520.9" cy="459.3" r="0.62"/><circle cx="516.9" cy="524.3" r="0.65"/><circle cx="535.2" cy="430.9" r="0.52"/><circle cx="522.1" cy="481.7" r="0.61"/><circle cx="572.4" cy="526.1" r="0.57"/><circle cx="526.2" cy="488.7" r="0.80"/><circle cx="516.0" cy="478.3" r="0.72"/><circle cx="497.9" cy="455.0" r="0.79"/><circle cx="566.7" cy="476.4" r="0.40"/><circle cx="573.9" cy="495.9" r="0.72"/><circle cx="584.0" cy="517.7" r="0.54"/><circle cx="496.4" cy="451.9" r="0.58"/><circle cx="533.0" cy="440.7" r="0.43"/><circle cx="546.2" cy="486.3" r="0.51"/><circle cx="584.3" cy="490.0" r="0.37"/><circle cx="523.2" cy="506.6" r="0.49"/><circle cx="552.5" cy="420.4" r="0.49"/><circle cx="568.4" cy="484.5" r="0.65"/><circle cx="500.6" cy="474.8" r="0.60"/><circle cx="507.9" cy="491.1" r="0.59"/><circle cx="584.7" cy="483.2" r="0.53"/><circle cx="492.8" cy="437.2" r="0.69"/><circle cx="491.2" cy="431.0" r="0.43"/><circle cx="534.9" cy="510.5" r="0.63"/><circle cx="564.7" cy="426.8" r="0.36"/><circle cx="560.9" cy="455.5" r="0.67"/><circle cx="517.2" cy="438.6" r="0.47"/><circle cx="490.4" cy="519.4" r="0.61"/><circle cx="516.6" cy="469.5" r="0.52"/><circle cx="485.7" cy="518.0" r="0.61"/><circle cx="580.8" cy="468.4" r="0.63"/><circle cx="506.2" cy="424.8" r="0.77"/><circle cx="569.7" cy="454.6" r="0.75"/><circle cx="565.7" cy="453.4" r="0.62"/><circle cx="580.8" cy="474.5" r="0.78"/><circle cx="505.5" cy="462.9" r="0.67"/><circle cx="503.2" cy="454.0" r="0.74"/><circle cx="530.9" cy="507.2" r="0.46"/><circle cx="498.2" cy="459.4" r="0.43"/><circle cx="582.0" cy="452.0" r="0.60"/><circle cx="492.1" cy="478.7" r="0.52"/><circle cx="522.3" cy="427.2" r="0.41"/><circle cx="566.7" cy="458.6" r="0.46"/><circle cx="500.1" cy="451.2" r="0.46"/><circle cx="483.7" cy="493.1" r="0.50"/><circle cx="496.4" cy="497.6" r="0.39"/><circle cx="508.3" cy="511.9" r="0.41"/><circle cx="526.5" cy="512.0" r="0.71"/><circle cx="496.7" cy="458.8" r="0.68"/><circle cx="519.6" cy="525.4" r="0.44"/><circle cx="579.8" cy="475.5" r="0.45"/><circle cx="527.5" cy="434.4" r="0.67"/><circle cx="507.4" cy="519.0" r="0.61"/><circle cx="518.6" cy="447.1" r="0.62"/><circle cx="502.3" cy="516.0" r="0.41"/><circle cx="533.9" cy="479.7" r="0.47"/><circle cx="561.0" cy="462.3" r="0.65"/><circle cx="539.6" cy="454.2" r="0.53"/><circle cx="489.0" cy="439.5" r="0.73"/><circle cx="513.7" cy="492.9" r="0.40"/><circle cx="539.0" cy="459.8" r="0.58"/><circle cx="511.2" cy="427.3" r="0.49"/><circle cx="503.8" cy="433.9" r="0.67"/><circle cx="509.6" cy="464.4" r="0.76"/><circle cx="561.4" cy="517.1" r="0.74"/><circle cx="493.9" cy="450.4" r="0.36"/><circle cx="551.4" cy="493.0" r="0.51"/><circle cx="523.3" cy="492.5" r="0.66"/><circle cx="506.1" cy="513.1" r="0.51"/><circle cx="546.0" cy="440.0" r="0.40"/><circle cx="575.8" cy="500.7" r="0.67"/><circle cx="484.2" cy="424.4" r="0.42"/><circle cx="500.8" cy="453.3" r="0.52"/><circle cx="484.1" cy="454.2" r="0.64"/><circle cx="498.9" cy="512.3" r="0.61"/><circle cx="555.2" cy="448.0" r="0.55"/><circle cx="551.9" cy="458.4" r="0.35"/><circle cx="567.6" cy="505.4" r="0.48"/><circle cx="484.5" cy="514.0" r="0.62"/><circle cx="485.0" cy="446.9" r="0.40"/><circle cx="563.1" cy="443.1" r="0.76"/><circle cx="558.7" cy="429.5" r="0.66"/><circle cx="521.3" cy="502.2" r="0.72"/><circle cx="509.5" cy="429.9" r="0.78"/><circle cx="524.5" cy="522.3" r="0.66"/><circle cx="557.6" cy="511.3" r="0.63"/><circle cx="527.5" cy="426.0" r="0.66"/><circle cx="525.0" cy="476.3" r="0.77"/><circle cx="493.4" cy="503.8" r="0.37"/><circle cx="553.8" cy="508.6" r="0.47"/><circle cx="537.4" cy="526.6" r="0.64"/><circle cx="537.1" cy="447.5" r="0.38"/><circle cx="517.6" cy="465.3" r="0.44"/><circle cx="512.6" cy="435.0" r="0.67"/><circle cx="550.4" cy="446.2" r="0.46"/><circle cx="534.1" cy="469.0" r="0.77"/><circle cx="516.9" cy="452.9" r="0.75"/><circle cx="494.9" cy="482.0" r="0.50"/><circle cx="565.6" cy="480.3" r="0.69"/><circle cx="497.8" cy="493.3" r="0.62"/><circle cx="528.4" cy="504.3" r="0.72"/><circle cx="492.0" cy="451.8" r="0.51"/><circle cx="501.7" cy="426.6" r="0.48"/><circle cx="500.7" cy="497.2" r="0.55"/><circle cx="491.9" cy="455.7" r="0.56"/><circle cx="518.1" cy="438.5" r="0.38"/><circle cx="481.1" cy="529.1" r="0.69"/><circle cx="488.8" cy="498.9" r="0.79"/><circle cx="539.2" cy="432.0" r="0.57"/><circle cx="525.6" cy="440.9" r="0.59"/><circle cx="480.9" cy="521.2" r="0.64"/><circle cx="545.9" cy="522.9" r="0.64"/><circle cx="506.4" cy="447.1" r="0.41"/><circle cx="482.9" cy="505.2" r="0.73"/><circle cx="511.1" cy="440.4" r="0.64"/><circle cx="568.8" cy="521.9" r="0.43"/><circle cx="562.4" cy="511.3" r="0.68"/><circle cx="514.3" cy="440.3" r="0.72"/><circle cx="513.6" cy="460.5" r="0.60"/><circle cx="518.8" cy="511.5" r="0.46"/><circle cx="484.3" cy="482.4" r="0.63"/><circle cx="566.1" cy="497.6" r="0.76"/><circle cx="579.2" cy="474.4" r="0.57"/><circle cx="496.5" cy="453.0" r="0.61"/><circle cx="488.4" cy="495.7" r="0.42"/><circle cx="526.5" cy="526.7" r="0.39"/><circle cx="484.2" cy="468.3" r="0.44"/><circle cx="555.9" cy="420.3" r="0.73"/><circle cx="569.8" cy="506.6" r="0.54"/><circle cx="509.7" cy="492.8" r="0.58"/><circle cx="524.2" cy="457.3" r="0.55"/><circle cx="549.9" cy="510.9" r="0.76"/><circle cx="497.3" cy="452.5" r="0.55"/><circle cx="539.2" cy="458.3" r="0.44"/><circle cx="488.9" cy="455.6" r="0.56"/><circle cx="582.0" cy="520.0" r="0.74"/><circle cx="582.3" cy="525.8" r="0.63"/><circle cx="565.2" cy="426.6" r="0.65"/><circle cx="544.0" cy="452.7" r="0.61"/><circle cx="580.0" cy="472.9" r="0.64"/><circle cx="511.4" cy="457.8" r="0.75"/><circle cx="482.9" cy="440.8" r="0.66"/><circle cx="527.0" cy="429.4" r="0.65"/><circle cx="519.1" cy="483.9" r="0.54"/><circle cx="535.6" cy="482.1" r="0.53"/><circle cx="492.0" cy="439.9" r="0.75"/><circle cx="537.6" cy="432.3" r="0.74"/><circle cx="506.6" cy="430.4" r="0.59"/><circle cx="506.4" cy="473.8" r="0.60"/><circle cx="503.8" cy="483.0" r="0.40"/><circle cx="533.9" cy="484.7" r="0.39"/><circle cx="522.8" cy="428.1" r="0.55"/><circle cx="570.7" cy="480.6" r="0.67"/><circle cx="559.5" cy="432.6" r="0.80"/><circle cx="555.8" cy="431.2" r="0.72"/><circle cx="521.2" cy="438.8" r="0.78"/><circle cx="539.1" cy="505.2" r="0.41"/><circle cx="561.5" cy="426.3" r="0.46"/><circle cx="519.1" cy="421.7" r="0.62"/><circle cx="502.4" cy="453.0" r="0.67"/><circle cx="524.7" cy="517.7" r="0.63"/><circle cx="571.6" cy="481.9" r="0.76"/><circle cx="571.4" cy="438.5" r="0.69"/><circle cx="515.8" cy="504.0" r="0.66"/><circle cx="566.7" cy="433.5" r="0.52"/><circle cx="557.4" cy="524.3" r="0.67"/><circle cx="484.6" cy="486.4" r="0.39"/><circle cx="537.6" cy="508.3" r="0.40"/><circle cx="577.2" cy="494.3" r="0.46"/><circle cx="500.3" cy="469.1" r="0.73"/><circle cx="541.0" cy="432.5" r="0.36"/><circle cx="491.6" cy="508.1" r="0.43"/><circle cx="538.2" cy="451.9" r="0.66"/><circle cx="520.0" cy="435.9" r="0.74"/><circle cx="536.5" cy="495.8" r="0.71"/><circle cx="579.6" cy="421.5" r="0.50"/><circle cx="495.8" cy="475.2" r="0.74"/><circle cx="564.0" cy="423.9" r="0.43"/><circle cx="565.9" cy="494.7" r="0.53"/><circle cx="530.0" cy="437.4" r="0.73"/><circle cx="521.3" cy="516.0" r="0.62"/><circle cx="488.0" cy="456.2" r="0.45"/><circle cx="573.9" cy="484.8" r="0.37"/><circle cx="497.8" cy="459.7" r="0.56"/><circle cx="540.6" cy="462.7" r="0.51"/><circle cx="480.6" cy="483.7" r="0.50"/><circle cx="482.2" cy="470.5" r="0.79"/><circle cx="484.8" cy="436.0" r="0.65"/><circle cx="508.6" cy="450.1" r="0.58"/><circle cx="507.5" cy="482.6" r="0.59"/><circle cx="580.5" cy="529.1" r="0.37"/><circle cx="538.9" cy="504.8" r="0.74"/><circle cx="561.3" cy="489.6" r="0.64"/><circle cx="518.1" cy="451.0" r="0.71"/><circle cx="571.6" cy="523.3" r="0.66"/><circle cx="511.9" cy="504.0" r="0.68"/><circle cx="533.4" cy="489.9" r="0.51"/><circle cx="537.8" cy="464.7" r="0.38"/><circle cx="515.4" cy="455.6" r="0.79"/><circle cx="530.6" cy="460.4" r="0.46"/><circle cx="504.7" cy="458.4" r="0.41"/><circle cx="480.8" cy="515.8" r="0.55"/><circle cx="526.8" cy="482.6" r="0.49"/><circle cx="497.7" cy="427.3" r="0.49"/><circle cx="512.4" cy="499.9" r="0.60"/><circle cx="578.4" cy="457.5" r="0.76"/><circle cx="541.3" cy="428.8" r="0.43"/><circle cx="541.0" cy="528.6" r="0.51"/><circle cx="561.3" cy="467.1" r="0.74"/><circle cx="487.1" cy="473.3" r="0.75"/><circle cx="509.0" cy="448.3" r="0.36"/><circle cx="497.3" cy="449.5" r="0.67"/><circle cx="502.9" cy="464.0" r="0.44"/><circle cx="543.3" cy="515.0" r="0.64"/><circle cx="500.7" cy="500.7" r="0.78"/><circle cx="543.1" cy="428.7" r="0.71"/><circle cx="571.9" cy="457.5" r="0.41"/><circle cx="499.8" cy="479.1" r="0.74"/><circle cx="547.2" cy="521.5" r="0.45"/><circle cx="514.3" cy="502.4" r="0.64"/><circle cx="522.6" cy="494.7" r="0.50"/><circle cx="486.0" cy="465.6" r="0.37"/><circle cx="545.8" cy="456.8" r="0.57"/><circle cx="542.8" cy="448.3" r="0.56"/><circle cx="481.4" cy="521.8" r="0.60"/><circle cx="583.7" cy="426.2" r="0.63"/><circle cx="556.0" cy="456.2" r="0.39"/><circle cx="496.4" cy="435.7" r="0.70"/><circle cx="489.4" cy="509.5" r="0.54"/><circle cx="536.6" cy="484.7" r="0.60"/><circle cx="549.0" cy="486.2" r="0.50"/><circle cx="557.8" cy="448.4" r="0.67"/><circle cx="574.3" cy="399.8" r="0.49"/><circle cx="574.8" cy="418.0" r="0.55"/><circle cx="552.5" cy="377.1" r="0.77"/><circle cx="545.9" cy="330.8" r="0.56"/><circle cx="569.5" cy="399.7" r="0.51"/><circle cx="584.5" cy="350.5" r="0.69"/><circle cx="544.0" cy="332.5" r="0.41"/><circle cx="542.7" cy="375.2" r="0.60"/><circle cx="548.2" cy="414.6" r="0.51"/><circle cx="546.7" cy="346.0" r="0.68"/><circle cx="581.5" cy="344.6" r="0.36"/><circle cx="575.0" cy="351.8" r="0.79"/><circle cx="562.5" cy="387.3" r="0.50"/><circle cx="576.0" cy="371.4" r="0.50"/><circle cx="580.7" cy="339.7" r="0.68"/><circle cx="542.9" cy="388.1" r="0.53"/><circle cx="578.9" cy="335.4" r="0.60"/><circle cx="558.4" cy="412.7" r="0.78"/><circle cx="568.2" cy="350.2" r="0.46"/><circle cx="551.8" cy="369.0" r="0.45"/><circle cx="549.1" cy="398.3" r="0.64"/><circle cx="553.4" cy="419.5" r="0.45"/><circle cx="565.6" cy="344.1" r="0.74"/><circle cx="579.1" cy="354.1" r="0.69"/><circle cx="577.0" cy="355.4" r="0.50"/><circle cx="561.8" cy="410.2" r="0.42"/><circle cx="570.7" cy="383.8" r="0.55"/><circle cx="566.1" cy="409.5" r="0.44"/><circle cx="579.8" cy="362.4" r="0.70"/><circle cx="578.9" cy="346.4" r="0.74"/><circle cx="584.8" cy="356.8" r="0.36"/><circle cx="545.0" cy="417.7" r="0.35"/><circle cx="581.0" cy="343.6" r="0.68"/><circle cx="544.4" cy="345.2" r="0.66"/><circle cx="544.1" cy="360.6" r="0.76"/><circle cx="572.2" cy="409.4" r="0.79"/><circle cx="541.5" cy="351.1" r="0.71"/><circle cx="571.0" cy="333.4" r="0.58"/><circle cx="550.4" cy="368.7" r="0.40"/><circle cx="540.9" cy="419.2" r="0.49"/><circle cx="579.5" cy="340.8" r="0.57"/><circle cx="546.1" cy="368.6" r="0.43"/><circle cx="570.8" cy="343.3" r="0.68"/><circle cx="562.5" cy="340.1" r="0.51"/><circle cx="562.3" cy="412.7" r="0.51"/><circle cx="549.7" cy="417.1" r="0.75"/><circle cx="572.9" cy="354.6" r="0.43"/><circle cx="551.9" cy="336.2" r="0.37"/><circle cx="562.9" cy="366.7" r="0.60"/><circle cx="556.3" cy="331.0" r="0.66"/><circle cx="569.4" cy="379.0" r="0.60"/><circle cx="571.1" cy="418.4" r="0.74"/><circle cx="572.3" cy="365.9" r="0.49"/><circle cx="558.9" cy="417.6" r="0.52"/><circle cx="557.3" cy="366.9" r="0.41"/><circle cx="584.9" cy="330.5" r="0.62"/><circle cx="581.7" cy="352.9" r="0.62"/><circle cx="557.0" cy="351.7" r="0.44"/><circle cx="545.2" cy="405.9" r="0.70"/><circle cx="580.9" cy="334.5" r="0.66"/><circle cx="554.6" cy="388.2" r="0.60"/><circle cx="554.2" cy="417.4" r="0.35"/><circle cx="573.6" cy="406.8" r="0.58"/><circle cx="566.7" cy="419.5" r="0.46"/><circle cx="568.3" cy="396.9" r="0.52"/><circle cx="572.0" cy="365.4" r="0.59"/><circle cx="567.6" cy="390.9" r="0.49"/><circle cx="568.3" cy="378.9" r="0.45"/><circle cx="567.6" cy="353.8" r="0.76"/><circle cx="561.3" cy="394.9" r="0.58"/><circle cx="561.4" cy="349.9" r="0.41"/><circle cx="581.7" cy="377.6" r="0.59"/><circle cx="563.7" cy="403.2" r="0.46"/><circle cx="547.8" cy="404.0" r="0.56"/><circle cx="568.8" cy="404.5" r="0.75"/><circle cx="579.1" cy="333.9" r="0.52"/><circle cx="577.4" cy="403.6" r="0.41"/><circle cx="546.9" cy="352.6" r="0.40"/><circle cx="556.0" cy="402.3" r="0.58"/><circle cx="560.4" cy="337.9" r="0.53"/><circle cx="469.7" cy="701.7" r="0.55"/><circle cx="423.1" cy="707.9" r="0.69"/><circle cx="393.5" cy="700.8" r="0.52"/><circle cx="426.9" cy="674.3" r="0.52"/><circle cx="410.6" cy="682.9" r="0.36"/><circle cx="398.1" cy="694.2" r="0.38"/><circle cx="396.1" cy="703.1" r="0.47"/><circle cx="409.2" cy="674.5" r="0.73"/><circle cx="388.2" cy="698.2" r="0.74"/><circle cx="398.2" cy="685.4" r="0.71"/><circle cx="435.6" cy="682.3" r="0.37"/><circle cx="419.8" cy="682.0" r="0.67"/><circle cx="406.6" cy="684.5" r="0.64"/><circle cx="453.0" cy="681.1" r="0.52"/><circle cx="432.1" cy="715.5" r="0.44"/><circle cx="467.4" cy="702.7" r="0.52"/><circle cx="439.9" cy="679.8" r="0.38"/><circle cx="448.0" cy="682.8" r="0.59"/><circle cx="424.7" cy="714.1" r="0.69"/><circle cx="382.3" cy="695.6" r="0.56"/><circle cx="421.6" cy="710.4" r="0.54"/><circle cx="422.6" cy="713.4" r="0.55"/><circle cx="424.2" cy="690.7" r="0.72"/><circle cx="440.3" cy="704.4" r="0.53"/><circle cx="383.7" cy="700.8" r="0.60"/><circle cx="449.2" cy="706.2" r="0.40"/><circle cx="399.9" cy="664.6" r="0.72"/><circle cx="389.2" cy="665.3" r="0.69"/><circle cx="430.8" cy="663.3" r="0.66"/><circle cx="444.0" cy="689.0" r="0.37"/><circle cx="442.2" cy="685.1" r="0.61"/><circle cx="469.8" cy="709.0" r="0.74"/><circle cx="393.1" cy="680.1" r="0.58"/><circle cx="380.5" cy="719.3" r="0.47"/><circle cx="403.6" cy="678.8" r="0.46"/><circle cx="457.3" cy="693.3" r="0.58"/><circle cx="417.8" cy="663.1" r="0.49"/><circle cx="458.0" cy="708.1" r="0.74"/><circle cx="403.1" cy="672.1" r="0.37"/><circle cx="428.3" cy="682.4" r="0.56"/><circle cx="424.0" cy="695.0" r="0.51"/><circle cx="452.1" cy="672.0" r="0.76"/><circle cx="430.1" cy="663.1" r="0.49"/><circle cx="428.0" cy="684.5" r="0.60"/><circle cx="409.1" cy="676.4" r="0.71"/><circle cx="406.2" cy="702.6" r="0.71"/><circle cx="433.3" cy="687.3" r="0.77"/><circle cx="420.0" cy="712.7" r="0.38"/><circle cx="419.0" cy="698.4" r="0.37"/><circle cx="457.6" cy="664.3" r="0.62"/><circle cx="396.2" cy="715.3" r="0.60"/><circle cx="452.1" cy="689.9" r="0.65"/><circle cx="440.7" cy="677.7" r="0.44"/><circle cx="455.4" cy="668.7" r="0.76"/><circle cx="398.6" cy="666.1" r="0.39"/><circle cx="450.6" cy="717.1" r="0.54"/><circle cx="439.3" cy="675.5" r="0.76"/><circle cx="441.7" cy="669.3" r="0.38"/><circle cx="442.6" cy="662.5" r="0.73"/><circle cx="406.4" cy="674.0" r="0.61"/><circle cx="408.7" cy="693.6" r="0.42"/><circle cx="462.1" cy="679.5" r="0.73"/><circle cx="393.7" cy="708.0" r="0.79"/><circle cx="415.2" cy="662.0" r="0.52"/><circle cx="437.7" cy="673.4" r="0.60"/><circle cx="388.4" cy="687.9" r="0.68"/><circle cx="418.7" cy="700.7" r="0.40"/><circle cx="454.6" cy="667.3" r="0.77"/><circle cx="469.7" cy="716.4" r="0.59"/><circle cx="406.2" cy="680.9" r="0.69"/><circle cx="424.7" cy="715.8" r="0.39"/><circle cx="423.6" cy="711.8" r="0.62"/><circle cx="428.7" cy="665.3" r="0.41"/><circle cx="404.4" cy="713.6" r="0.73"/><circle cx="400.4" cy="715.5" r="0.36"/><circle cx="433.9" cy="718.0" r="0.50"/><circle cx="465.0" cy="699.4" r="0.37"/><circle cx="410.0" cy="687.0" r="0.46"/><circle cx="446.8" cy="670.7" r="0.70"/><circle cx="406.8" cy="664.2" r="0.60"/><circle cx="466.7" cy="719.3" r="0.70"/><circle cx="501.7" cy="716.1" r="0.37"/><circle cx="495.9" cy="703.4" r="0.64"/><circle cx="469.2" cy="720.2" r="0.51"/><circle cx="486.2" cy="723.2" r="0.42"/><circle cx="471.9" cy="733.0" r="0.50"/><circle cx="519.0" cy="730.6" r="0.57"/><circle cx="470.4" cy="703.3" r="0.75"/><circle cx="468.2" cy="717.4" r="0.59"/><circle cx="468.2" cy="716.4" r="0.42"/><circle cx="497.5" cy="717.7" r="0.52"/><circle cx="473.8" cy="714.1" r="0.44"/><circle cx="468.9" cy="708.4" r="0.74"/><circle cx="495.1" cy="731.2" r="0.36"/><circle cx="526.0" cy="717.1" r="0.71"/><circle cx="499.9" cy="724.1" r="0.45"/><circle cx="512.5" cy="705.4" r="0.47"/><circle cx="462.2" cy="713.8" r="0.58"/><circle cx="480.4" cy="731.2" r="0.39"/><circle cx="500.5" cy="708.2" r="0.62"/><circle cx="514.9" cy="724.9" r="0.38"/><circle cx="477.2" cy="721.0" r="0.79"/><circle cx="462.9" cy="721.6" r="0.66"/><circle cx="517.0" cy="712.0" r="0.71"/><circle cx="492.3" cy="732.2" r="0.35"/><circle cx="525.8" cy="714.4" r="0.53"/><circle cx="466.2" cy="708.6" r="0.68"/><circle cx="507.5" cy="705.3" r="0.50"/><circle cx="469.8" cy="706.9" r="0.45"/><circle cx="483.2" cy="734.2" r="0.80"/><circle cx="515.4" cy="716.8" r="0.57"/><circle cx="514.5" cy="731.8" r="0.69"/><circle cx="504.5" cy="707.0" r="0.63"/><circle cx="519.2" cy="727.5" r="0.39"/><circle cx="510.2" cy="712.2" r="0.42"/><circle cx="527.6" cy="723.5" r="0.69"/><circle cx="469.4" cy="729.0" r="0.77"/><circle cx="523.3" cy="726.1" r="0.72"/><circle cx="516.2" cy="720.7" r="0.55"/><circle cx="517.8" cy="727.5" r="0.74"/><circle cx="480.9" cy="733.6" r="0.59"/><circle cx="526.2" cy="704.1" r="0.79"/><circle cx="515.1" cy="708.8" r="0.73"/><circle cx="476.2" cy="706.9" r="0.56"/><circle cx="476.6" cy="717.2" r="0.76"/><circle cx="508.0" cy="724.9" r="0.53"/><circle cx="514.9" cy="727.8" r="0.66"/><circle cx="525.9" cy="728.9" r="0.53"/><circle cx="466.1" cy="722.8" r="0.73"/><circle cx="483.8" cy="720.8" r="0.73"/><circle cx="391.7" cy="540.2" r="0.57"/><circle cx="360.7" cy="544.4" r="0.72"/><circle cx="376.7" cy="564.2" r="0.56"/><circle cx="373.4" cy="548.5" r="0.51"/><circle cx="393.8" cy="564.8" r="0.48"/><circle cx="363.5" cy="550.8" r="0.67"/><circle cx="377.7" cy="566.4" r="0.71"/><circle cx="364.8" cy="567.3" r="0.37"/><circle cx="392.9" cy="547.4" r="0.47"/><circle cx="398.3" cy="554.5" r="0.45"/><circle cx="395.6" cy="564.4" r="0.75"/><circle cx="375.8" cy="560.0" r="0.78"/><circle cx="380.3" cy="579.5" r="0.44"/><circle cx="393.2" cy="546.5" r="0.59"/><circle cx="360.0" cy="547.0" r="0.78"/><circle cx="378.2" cy="572.4" r="0.46"/><circle cx="374.1" cy="544.0" r="0.60"/><circle cx="394.5" cy="560.6" r="0.52"/><circle cx="397.1" cy="575.8" r="0.65"/><circle cx="363.0" cy="565.0" r="0.55"/><circle cx="398.3" cy="554.5" r="0.65"/><circle cx="385.3" cy="555.0" r="0.58"/><circle cx="387.1" cy="576.3" r="0.57"/><circle cx="374.5" cy="579.0" r="0.38"/><circle cx="393.4" cy="567.3" r="0.60"/><circle cx="377.9" cy="570.0" r="0.75"/><circle cx="389.2" cy="570.0" r="0.37"/><circle cx="373.0" cy="545.5" r="0.78"/><circle cx="395.7" cy="545.8" r="0.61"/><circle cx="383.1" cy="541.9" r="0.53"/><circle cx="577.4" cy="587.7" r="0.48"/><circle cx="578.1" cy="556.2" r="0.59"/><circle cx="561.0" cy="618.0" r="0.64"/><circle cx="580.2" cy="590.9" r="0.52"/><circle cx="588.2" cy="593.9" r="0.66"/><circle cx="553.9" cy="544.6" r="0.61"/><circle cx="581.3" cy="601.4" r="0.51"/><circle cx="547.0" cy="576.4" r="0.74"/><circle cx="548.1" cy="596.5" r="0.43"/><circle cx="555.6" cy="534.8" r="0.48"/><circle cx="559.1" cy="617.0" r="0.78"/><circle cx="549.4" cy="557.8" r="0.77"/><circle cx="549.9" cy="558.9" r="0.55"/><circle cx="545.4" cy="553.4" r="0.53"/><circle cx="559.3" cy="616.7" r="0.47"/><circle cx="550.2" cy="611.8" r="0.55"/><circle cx="581.9" cy="587.3" r="0.70"/><circle cx="555.7" cy="543.7" r="0.69"/><circle cx="563.5" cy="580.3" r="0.65"/><circle cx="577.6" cy="554.8" r="0.51"/><circle cx="585.9" cy="577.6" r="0.48"/><circle cx="571.5" cy="553.4" r="0.70"/><circle cx="542.1" cy="604.4" r="0.60"/><circle cx="557.7" cy="614.6" r="0.47"/><circle cx="552.2" cy="536.3" r="0.60"/><circle cx="577.7" cy="591.0" r="0.54"/><circle cx="580.4" cy="540.0" r="0.49"/><circle cx="572.2" cy="617.1" r="0.64"/><circle cx="574.6" cy="599.7" r="0.53"/><circle cx="587.0" cy="596.8" r="0.50"/><circle cx="559.6" cy="602.5" r="0.51"/><circle cx="549.3" cy="608.4" r="0.59"/><circle cx="566.1" cy="590.2" r="0.76"/><circle cx="546.7" cy="560.5" r="0.38"/><circle cx="560.7" cy="575.2" r="0.73"/><circle cx="573.4" cy="582.0" r="0.53"/><circle cx="568.7" cy="554.6" r="0.73"/><circle cx="579.4" cy="605.5" r="0.42"/><circle cx="573.6" cy="597.9" r="0.58"/><circle cx="584.9" cy="610.9" r="0.68"/><circle cx="581.0" cy="588.4" r="0.75"/><circle cx="546.6" cy="593.4" r="0.67"/><circle cx="570.6" cy="554.8" r="0.38"/><circle cx="570.2" cy="604.2" r="0.47"/><circle cx="550.7" cy="550.1" r="0.39"/><circle cx="573.8" cy="617.7" r="0.71"/><circle cx="558.0" cy="592.9" r="0.38"/><circle cx="581.9" cy="559.3" r="0.35"/><circle cx="571.5" cy="542.5" r="0.47"/><circle cx="543.0" cy="570.1" r="0.60"/><circle cx="580.4" cy="533.6" r="0.72"/><circle cx="545.5" cy="550.2" r="0.63"/><circle cx="557.0" cy="559.8" r="0.61"/><circle cx="550.9" cy="601.4" r="0.44"/><circle cx="582.0" cy="602.8" r="0.59"/><circle cx="541.5" cy="600.0" r="0.36"/><circle cx="565.2" cy="568.2" r="0.38"/><circle cx="571.5" cy="595.2" r="0.61"/><circle cx="560.0" cy="576.1" r="0.61"/><circle cx="551.3" cy="608.1" r="0.80"/><circle cx="580.2" cy="616.5" r="0.50"/><circle cx="589.3" cy="536.4" r="0.57"/><circle cx="546.7" cy="570.9" r="0.66"/><circle cx="575.4" cy="570.9" r="0.50"/><circle cx="549.5" cy="566.3" r="0.48"/><circle cx="549.7" cy="596.2" r="0.58"/><circle cx="561.9" cy="547.8" r="0.67"/><circle cx="549.8" cy="553.9" r="0.60"/><circle cx="575.1" cy="617.6" r="0.69"/><circle cx="587.4" cy="612.8" r="0.68"/><circle cx="576.0" cy="535.6" r="0.44"/><circle cx="540.7" cy="607.7" r="0.67"/><circle cx="571.5" cy="553.7" r="0.51"/><circle cx="548.2" cy="586.9" r="0.80"/><circle cx="555.3" cy="534.0" r="0.43"/><circle cx="557.8" cy="610.9" r="0.71"/><circle cx="562.8" cy="539.2" r="0.40"/><circle cx="547.7" cy="600.0" r="0.56"/><circle cx="589.5" cy="612.1" r="0.71"/><circle cx="563.8" cy="604.0" r="0.41"/><circle cx="545.4" cy="580.7" r="0.58"/><circle cx="550.5" cy="552.7" r="0.36"/><circle cx="585.4" cy="593.9" r="0.78"/><circle cx="589.0" cy="569.3" r="0.68"/><circle cx="559.2" cy="603.1" r="0.73"/><circle cx="546.7" cy="531.2" r="0.45"/><circle cx="569.3" cy="564.1" r="0.35"/><circle cx="581.5" cy="600.7" r="0.56"/><circle cx="542.2" cy="610.0" r="0.59"/><circle cx="543.5" cy="559.1" r="0.63"/><circle cx="585.1" cy="609.4" r="0.64"/><circle cx="496.7" cy="599.7" r="0.76"/><circle cx="519.7" cy="594.2" r="0.62"/><circle cx="486.4" cy="598.0" r="0.56"/><circle cx="546.1" cy="615.5" r="0.67"/><circle cx="527.2" cy="592.7" r="0.68"/><circle cx="477.0" cy="608.8" r="0.53"/><circle cx="557.5" cy="618.5" r="0.46"/><circle cx="554.4" cy="617.7" r="0.56"/><circle cx="488.4" cy="626.4" r="0.62"/><circle cx="478.2" cy="599.5" r="0.79"/><circle cx="499.7" cy="605.7" r="0.70"/><circle cx="577.1" cy="615.4" r="0.68"/><circle cx="475.0" cy="593.8" r="0.79"/><circle cx="574.4" cy="591.5" r="0.37"/><circle cx="501.3" cy="627.2" r="0.45"/><circle cx="557.3" cy="627.2" r="0.64"/><circle cx="589.5" cy="600.5" r="0.42"/><circle cx="472.4" cy="620.3" r="0.40"/><circle cx="596.5" cy="618.4" r="0.43"/><circle cx="574.9" cy="596.5" r="0.58"/><circle cx="483.8" cy="621.5" r="0.75"/><circle cx="589.1" cy="590.1" r="0.73"/><circle cx="542.3" cy="622.9" r="0.58"/><circle cx="550.6" cy="613.8" r="0.71"/><circle cx="480.1" cy="592.2" r="0.60"/><circle cx="507.8" cy="605.9" r="0.35"/><circle cx="566.8" cy="591.0" r="0.72"/><circle cx="575.5" cy="608.3" r="0.40"/><circle cx="554.5" cy="598.3" r="0.54"/><circle cx="484.4" cy="629.1" r="0.60"/><circle cx="515.8" cy="593.8" r="0.68"/><circle cx="580.5" cy="623.9" r="0.40"/><circle cx="517.8" cy="602.1" r="0.69"/><circle cx="489.2" cy="614.3" r="0.79"/><circle cx="569.9" cy="590.3" r="0.38"/><circle cx="484.8" cy="617.7" r="0.62"/><circle cx="537.6" cy="608.2" r="0.53"/><circle cx="549.4" cy="615.9" r="0.76"/><circle cx="565.2" cy="621.9" r="0.76"/><circle cx="578.8" cy="618.7" r="0.36"/><circle cx="558.5" cy="624.0" r="0.54"/><circle cx="584.2" cy="597.2" r="0.77"/><circle cx="527.4" cy="618.3" r="0.46"/><circle cx="509.1" cy="603.9" r="0.50"/><circle cx="482.3" cy="607.7" r="0.79"/><circle cx="555.0" cy="627.3" r="0.69"/><circle cx="578.8" cy="629.8" r="0.69"/><circle cx="505.6" cy="600.0" r="0.54"/><circle cx="472.7" cy="599.2" r="0.75"/><circle cx="589.7" cy="603.1" r="0.70"/><circle cx="570.7" cy="625.6" r="0.71"/><circle cx="539.2" cy="594.2" r="0.72"/><circle cx="510.8" cy="615.1" r="0.52"/><circle cx="539.8" cy="628.6" r="0.42"/><circle cx="539.0" cy="616.0" r="0.59"/><circle cx="591.9" cy="606.3" r="0.76"/><circle cx="559.7" cy="628.7" r="0.39"/><circle cx="497.6" cy="601.5" r="0.76"/><circle cx="471.8" cy="600.4" r="0.67"/><circle cx="598.7" cy="597.1" r="0.55"/><circle cx="559.3" cy="617.6" r="0.69"/><circle cx="567.9" cy="599.9" r="0.47"/><circle cx="473.6" cy="617.6" r="0.44"/><circle cx="503.7" cy="628.6" r="0.64"/><circle cx="546.8" cy="616.2" r="0.62"/><circle cx="560.3" cy="602.2" r="0.38"/><circle cx="478.7" cy="590.6" r="0.51"/><circle cx="488.5" cy="594.5" r="0.57"/><circle cx="596.0" cy="617.5" r="0.47"/><circle cx="570.0" cy="597.1" r="0.40"/><circle cx="509.4" cy="606.4" r="0.66"/><circle cx="527.8" cy="619.1" r="0.39"/><circle cx="591.2" cy="603.7" r="0.72"/><circle cx="474.0" cy="623.2" r="0.45"/><circle cx="581.2" cy="622.1" r="0.65"/><circle cx="506.1" cy="590.4" r="0.44"/><circle cx="587.6" cy="596.3" r="0.65"/><circle cx="546.3" cy="616.4" r="0.43"/><circle cx="488.7" cy="593.9" r="0.79"/><circle cx="457.7" cy="600.7" r="0.47"/><circle cx="416.9" cy="356.9" r="0.30"/><circle cx="577.4" cy="384.0" r="0.59"/><circle cx="452.7" cy="629.9" r="0.34"/><circle cx="560.9" cy="434.4" r="0.41"/><circle cx="493.4" cy="376.3" r="0.37"/><circle cx="563.0" cy="448.4" r="0.41"/><circle cx="555.0" cy="423.0" r="0.36"/><circle cx="415.9" cy="489.4" r="0.41"/><circle cx="523.6" cy="525.8" r="0.56"/><circle cx="372.9" cy="605.4" r="0.55"/><circle cx="419.9" cy="342.2" r="0.43"/><circle cx="389.5" cy="520.9" r="0.51"/><circle cx="383.9" cy="378.9" r="0.44"/><circle cx="404.3" cy="425.8" r="0.43"/><circle cx="390.2" cy="358.2" r="0.41"/><circle cx="479.6" cy="718.7" r="0.47"/><circle cx="378.2" cy="422.3" r="0.52"/><circle cx="503.5" cy="691.1" r="0.59"/><circle cx="578.8" cy="375.7" r="0.58"/><circle cx="493.8" cy="429.5" r="0.35"/><circle cx="580.5" cy="418.1" r="0.32"/><circle cx="427.7" cy="713.5" r="0.44"/><circle cx="546.5" cy="360.9" r="0.44"/><circle cx="441.0" cy="415.2" r="0.50"/><circle cx="452.1" cy="379.7" r="0.60"/><circle cx="482.8" cy="404.7" r="0.30"/><circle cx="526.5" cy="543.6" r="0.31"/><circle cx="479.9" cy="637.3" r="0.46"/><circle cx="419.7" cy="537.1" r="0.48"/><circle cx="526.0" cy="390.2" r="0.54"/><circle cx="601.1" cy="637.3" r="0.56"/><circle cx="453.8" cy="704.6" r="0.35"/><circle cx="417.9" cy="578.2" r="0.57"/><circle cx="380.9" cy="420.0" r="0.31"/><circle cx="471.9" cy="388.3" r="0.36"/><circle cx="551.0" cy="572.1" r="0.58"/><circle cx="462.5" cy="611.8" r="0.30"/><circle cx="601.8" cy="426.7" r="0.44"/><circle cx="490.5" cy="723.5" r="0.45"/><circle cx="612.9" cy="587.8" r="0.36"/><circle cx="572.6" cy="413.8" r="0.60"/><circle cx="476.4" cy="423.9" r="0.59"/><circle cx="442.1" cy="498.9" r="0.40"/><circle cx="530.5" cy="339.5" r="0.41"/><circle cx="401.3" cy="673.6" r="0.30"/><circle cx="514.9" cy="437.0" r="0.44"/><circle cx="503.3" cy="625.4" r="0.34"/><circle cx="421.3" cy="380.0" r="0.59"/><circle cx="398.0" cy="386.9" r="0.46"/><circle cx="508.3" cy="697.9" r="0.32"/><circle cx="419.7" cy="399.5" r="0.48"/><circle cx="475.4" cy="499.7" r="0.57"/><circle cx="528.7" cy="687.0" r="0.59"/><circle cx="428.6" cy="720.9" r="0.42"/><circle cx="373.2" cy="709.6" r="0.33"/><circle cx="364.5" cy="450.2" r="0.39"/><circle cx="606.6" cy="691.2" r="0.43"/><circle cx="495.0" cy="682.3" r="0.54"/><circle cx="526.6" cy="542.8" r="0.33"/><circle cx="422.2" cy="603.1" r="0.48"/><circle cx="564.3" cy="703.0" r="0.59"/><circle cx="409.1" cy="361.5" r="0.57"/><circle cx="505.4" cy="405.3" r="0.51"/><circle cx="425.2" cy="428.2" r="0.41"/><circle cx="493.6" cy="611.1" r="0.32"/><circle cx="549.0" cy="589.1" r="0.44"/><circle cx="531.4" cy="661.8" r="0.30"/><circle cx="481.2" cy="611.3" r="0.51"/><circle cx="525.1" cy="404.8" r="0.59"/><circle cx="560.4" cy="426.7" r="0.43"/><circle cx="604.3" cy="416.0" r="0.42"/><circle cx="605.2" cy="703.5" r="0.37"/><circle cx="547.5" cy="479.3" r="0.50"/><circle cx="555.6" cy="382.9" r="0.37"/><circle cx="414.8" cy="440.4" r="0.31"/><circle cx="394.7" cy="498.5" r="0.43"/><circle cx="379.8" cy="571.7" r="0.58"/><circle cx="507.1" cy="477.6" r="0.51"/><circle cx="471.5" cy="402.8" r="0.44"/><circle cx="364.5" cy="610.5" r="0.35"/><circle cx="454.3" cy="729.4" r="0.53"/><circle cx="573.1" cy="596.5" r="0.49"/><circle cx="539.7" cy="731.0" r="0.36"/><circle cx="555.4" cy="454.9" r="0.38"/><circle cx="569.5" cy="579.5" r="0.55"/><circle cx="583.2" cy="574.4" r="0.36"/><circle cx="363.8" cy="552.0" r="0.52"/><circle cx="429.5" cy="359.1" r="0.30"/><circle cx="404.2" cy="618.8" r="0.30"/><circle cx="418.6" cy="440.0" r="0.51"/><circle cx="611.7" cy="338.0" r="0.33"/><circle cx="598.3" cy="732.5" r="0.34"/><circle cx="445.5" cy="546.8" r="0.40"/><circle cx="466.4" cy="528.7" r="0.38"/><circle cx="374.0" cy="364.8" r="0.35"/><circle cx="383.3" cy="589.0" r="0.51"/><circle cx="427.1" cy="658.6" r="0.52"/><circle cx="447.1" cy="534.1" r="0.36"/><circle cx="596.9" cy="562.6" r="0.32"/><circle cx="399.2" cy="617.4" r="0.42"/><circle cx="542.8" cy="425.2" r="0.54"/><circle cx="564.5" cy="369.1" r="0.48"/><circle cx="408.8" cy="623.7" r="0.54"/><circle cx="561.8" cy="426.0" r="0.33"/><circle cx="529.2" cy="564.5" r="0.34"/><circle cx="409.1" cy="571.7" r="0.33"/><circle cx="521.7" cy="430.0" r="0.38"/><circle cx="468.0" cy="551.3" r="0.52"/><circle cx="367.9" cy="630.6" r="0.37"/><circle cx="434.2" cy="595.5" r="0.51"/><circle cx="516.8" cy="704.3" r="0.36"/><circle cx="439.3" cy="604.9" r="0.38"/><circle cx="400.1" cy="423.9" r="0.53"/><circle cx="570.9" cy="627.3" r="0.59"/><circle cx="562.6" cy="458.5" r="0.39"/><circle cx="543.9" cy="353.1" r="0.48"/><circle cx="382.7" cy="350.4" r="0.45"/><circle cx="398.6" cy="716.6" r="0.56"/><circle cx="477.7" cy="412.0" r="0.34"/><circle cx="489.2" cy="546.3" r="0.41"/><circle cx="542.7" cy="549.6" r="0.53"/><circle cx="387.1" cy="359.1" r="0.42"/><circle cx="483.3" cy="434.8" r="0.50"/><circle cx="416.6" cy="462.1" r="0.44"/><circle cx="541.6" cy="649.7" r="0.41"/><circle cx="473.9" cy="714.9" r="0.58"/><circle cx="517.8" cy="373.6" r="0.44"/><circle cx="522.4" cy="445.6" r="0.31"/><circle cx="610.2" cy="707.5" r="0.34"/><circle cx="478.8" cy="587.0" r="0.39"/><circle cx="377.5" cy="641.5" r="0.53"/><circle cx="471.5" cy="365.6" r="0.42"/><circle cx="384.0" cy="729.9" r="0.32"/><circle cx="433.4" cy="648.7" r="0.34"/><circle cx="387.2" cy="359.3" r="0.35"/><circle cx="495.6" cy="675.7" r="0.35"/><circle cx="404.3" cy="647.5" r="0.43"/><circle cx="446.2" cy="381.2" r="0.37"/><circle cx="607.8" cy="378.5" r="0.38"/><circle cx="548.9" cy="700.1" r="0.57"/><circle cx="480.6" cy="726.9" r="0.48"/><circle cx="433.6" cy="523.1" r="0.51"/><circle cx="547.2" cy="383.8" r="0.36"/><circle cx="604.4" cy="374.4" r="0.54"/><circle cx="446.4" cy="432.9" r="0.38"/><circle cx="479.6" cy="741.1" r="0.34"/><circle cx="577.9" cy="463.3" r="0.35"/><circle cx="549.9" cy="471.8" r="0.36"/><circle cx="466.7" cy="671.0" r="0.56"/><circle cx="506.6" cy="334.3" r="0.53"/><circle cx="514.7" cy="703.3" r="0.59"/><circle cx="443.4" cy="682.1" r="0.55"/><circle cx="427.8" cy="481.8" r="0.41"/><circle cx="450.0" cy="487.0" r="0.33"/><circle cx="417.9" cy="707.5" r="0.42"/><circle cx="522.1" cy="698.2" r="0.53"/><circle cx="422.3" cy="711.6" r="0.54"/><circle cx="612.6" cy="632.1" r="0.53"/><circle cx="567.3" cy="435.1" r="0.50"/><circle cx="457.1" cy="678.5" r="0.34"/><circle cx="497.5" cy="469.6" r="0.55"/><circle cx="448.0" cy="680.2" r="0.55"/><circle cx="584.1" cy="387.7" r="0.58"/><circle cx="549.8" cy="610.9" r="0.50"/><circle cx="372.2" cy="691.1" r="0.46"/><circle cx="476.2" cy="470.8" r="0.53"/><circle cx="559.5" cy="691.0" r="0.36"/><circle cx="446.8" cy="433.5" r="0.33"/><circle cx="443.4" cy="340.8" r="0.54"/><circle cx="417.9" cy="359.3" r="0.32"/><circle cx="549.0" cy="412.4" r="0.44"/><circle cx="462.5" cy="663.0" r="0.59"/><circle cx="439.0" cy="592.4" r="0.57"/><circle cx="480.0" cy="703.4" r="0.52"/><circle cx="439.4" cy="692.7" r="0.47"/><circle cx="387.0" cy="573.8" r="0.55"/><circle cx="492.2" cy="530.9" r="0.42"/><circle cx="584.5" cy="606.2" r="0.36"/><circle cx="452.4" cy="480.8" r="0.59"/><circle cx="537.5" cy="381.8" r="0.57"/><circle cx="368.9" cy="575.2" r="0.43"/><circle cx="543.0" cy="508.2" r="0.33"/><circle cx="493.5" cy="670.5" r="0.54"/><circle cx="450.9" cy="422.3" r="0.52"/><circle cx="564.4" cy="420.9" r="0.56"/><circle cx="613.1" cy="509.9" r="0.41"/><circle cx="541.0" cy="715.9" r="0.36"/><circle cx="436.9" cy="466.5" r="0.52"/><circle cx="407.6" cy="557.0" r="0.45"/><circle cx="530.5" cy="389.5" r="0.59"/><circle cx="615.0" cy="562.9" r="0.54"/><circle cx="406.8" cy="707.7" r="0.47"/><circle cx="553.7" cy="690.4" r="0.41"/><circle cx="595.6" cy="416.1" r="0.31"/><circle cx="488.1" cy="702.9" r="0.57"/><circle cx="603.5" cy="542.0" r="0.58"/><circle cx="502.8" cy="389.6" r="0.49"/><circle cx="564.9" cy="505.9" r="0.48"/><circle cx="426.1" cy="444.5" r="0.43"/><circle cx="490.9" cy="524.3" r="0.33"/><circle cx="361.4" cy="471.2" r="0.52"/><circle cx="550.8" cy="428.4" r="0.38"/><circle cx="491.8" cy="402.8" r="0.48"/><circle cx="590.6" cy="413.8" r="0.48"/><circle cx="543.8" cy="640.9" r="0.51"/><circle cx="541.2" cy="443.1" r="0.55"/><circle cx="595.9" cy="351.8" r="0.58"/><circle cx="472.9" cy="365.8" r="0.32"/><circle cx="563.2" cy="611.2" r="0.34"/><circle cx="477.3" cy="595.1" r="0.60"/><circle cx="445.7" cy="648.1" r="0.37"/><circle cx="410.7" cy="396.9" r="0.42"/><circle cx="517.6" cy="455.8" r="0.35"/><circle cx="415.7" cy="365.3" r="0.36"/><circle cx="440.5" cy="539.4" r="0.36"/><circle cx="482.3" cy="512.5" r="0.59"/><circle cx="484.0" cy="722.1" r="0.44"/><circle cx="410.5" cy="575.7" r="0.34"/><circle cx="403.1" cy="360.4" r="0.51"/><circle cx="606.6" cy="497.4" r="0.41"/><circle cx="468.4" cy="476.1" r="0.51"/><circle cx="459.9" cy="393.2" r="0.56"/><circle cx="506.0" cy="332.7" r="0.55"/><circle cx="545.8" cy="477.1" r="0.49"/><circle cx="594.7" cy="496.7" r="0.43"/><circle cx="436.0" cy="560.0" r="0.50"/><circle cx="547.4" cy="724.0" r="0.34"/><circle cx="453.3" cy="683.4" r="0.54"/><circle cx="510.5" cy="611.1" r="0.40"/><circle cx="600.9" cy="558.0" r="0.42"/><circle cx="406.5" cy="377.9" r="0.57"/><circle cx="564.1" cy="341.1" r="0.40"/><circle cx="482.3" cy="535.7" r="0.41"/><circle cx="588.3" cy="475.2" r="0.46"/><circle cx="597.0" cy="595.3" r="0.44"/><circle cx="444.8" cy="490.7" r="0.48"/><circle cx="560.4" cy="438.1" r="0.41"/><circle cx="458.9" cy="480.6" r="0.57"/><circle cx="497.4" cy="444.5" r="0.40"/><circle cx="569.5" cy="396.5" r="0.51"/><circle cx="365.5" cy="410.2" r="0.32"/><circle cx="565.4" cy="391.0" r="0.37"/><circle cx="374.7" cy="439.5" r="0.52"/><circle cx="543.6" cy="707.8" r="0.58"/><circle cx="500.5" cy="712.6" r="0.33"/><circle cx="595.9" cy="510.1" r="0.36"/><circle cx="550.8" cy="686.3" r="0.42"/><circle cx="383.8" cy="692.3" r="0.53"/><circle cx="512.2" cy="735.4" r="0.31"/><circle cx="374.3" cy="381.6" r="0.31"/><circle cx="540.6" cy="591.5" r="0.33"/><circle cx="401.3" cy="405.1" r="0.48"/><circle cx="531.5" cy="732.4" r="0.41"/><circle cx="609.6" cy="510.3" r="0.42"/><circle cx="424.6" cy="426.5" r="0.59"/><circle cx="613.7" cy="622.9" r="0.35"/><circle cx="405.9" cy="393.2" r="0.41"/><circle cx="548.0" cy="354.5" r="0.46"/><circle cx="533.6" cy="343.9" r="0.43"/><circle cx="561.7" cy="568.9" r="0.44"/><circle cx="584.8" cy="579.4" r="0.40"/><circle cx="461.0" cy="721.5" r="0.56"/><circle cx="593.3" cy="562.7" r="0.34"/><circle cx="404.6" cy="489.1" r="0.51"/><circle cx="361.2" cy="662.9" r="0.54"/><circle cx="491.3" cy="332.3" r="0.54"/><circle cx="465.6" cy="607.8" r="0.47"/><circle cx="545.7" cy="499.6" r="0.59"/><circle cx="603.7" cy="715.5" r="0.48"/><circle cx="440.7" cy="486.3" r="0.38"/><circle cx="590.5" cy="658.8" r="0.54"/><circle cx="569.4" cy="741.2" r="0.51"/><circle cx="441.2" cy="644.4" r="0.38"/><circle cx="515.8" cy="395.8" r="0.56"/><circle cx="484.6" cy="444.2" r="0.58"/><circle cx="381.2" cy="716.0" r="0.53"/><circle cx="398.0" cy="645.8" r="0.47"/><circle cx="591.3" cy="573.4" r="0.43"/><circle cx="598.0" cy="366.2" r="0.53"/><circle cx="386.2" cy="444.8" r="0.33"/><circle cx="582.2" cy="513.3" r="0.52"/><circle cx="425.4" cy="633.1" r="0.49"/><circle cx="384.9" cy="535.0" r="0.52"/><circle cx="414.7" cy="601.5" r="0.38"/><circle cx="454.5" cy="711.8" r="0.58"/><circle cx="614.5" cy="507.1" r="0.47"/><circle cx="566.2" cy="644.8" r="0.44"/><circle cx="580.2" cy="496.5" r="0.59"/><circle cx="480.6" cy="379.2" r="0.52"/><circle cx="396.9" cy="612.0" r="0.32"/><circle cx="612.0" cy="554.5" r="0.52"/><circle cx="393.4" cy="594.3" r="0.41"/><circle cx="423.5" cy="668.2" r="0.31"/><circle cx="481.9" cy="366.1" r="0.56"/><circle cx="587.8" cy="344.3" r="0.44"/><circle cx="479.6" cy="628.3" r="0.52"/><circle cx="447.5" cy="717.1" r="0.36"/><circle cx="394.8" cy="668.1" r="0.34"/><circle cx="407.4" cy="537.6" r="0.40"/><circle cx="401.8" cy="715.9" r="0.44"/><circle cx="560.4" cy="433.8" r="0.57"/><circle cx="416.4" cy="706.2" r="0.48"/><circle cx="607.6" cy="650.0" r="0.49"/><circle cx="495.9" cy="684.8" r="0.43"/><circle cx="385.1" cy="709.2" r="0.54"/><circle cx="533.9" cy="639.1" r="0.37"/><circle cx="478.1" cy="671.5" r="0.59"/><circle cx="595.4" cy="396.6" r="0.51"/><circle cx="501.3" cy="498.1" r="0.35"/><circle cx="395.0" cy="525.2" r="0.45"/><circle cx="428.3" cy="482.6" r="0.47"/><circle cx="554.3" cy="574.6" r="0.35"/><circle cx="585.9" cy="482.6" r="0.59"/><circle cx="610.3" cy="388.2" r="0.47"/><circle cx="606.5" cy="489.8" r="0.46"/><circle cx="440.0" cy="341.9" r="0.36"/><circle cx="391.6" cy="448.0" r="0.49"/><circle cx="503.6" cy="723.5" r="0.51"/><circle cx="452.4" cy="724.0" r="0.49"/><circle cx="498.5" cy="688.0" r="0.50"/><circle cx="451.9" cy="581.0" r="0.39"/><circle cx="607.2" cy="431.3" r="0.59"/><circle cx="376.4" cy="334.1" r="0.47"/><circle cx="412.5" cy="540.6" r="0.34"/><circle cx="573.4" cy="607.7" r="0.51"/><circle cx="596.3" cy="741.7" r="0.50"/><circle cx="541.9" cy="330.7" r="0.31"/><circle cx="468.8" cy="732.2" r="0.39"/><circle cx="505.0" cy="333.7" r="0.42"/><circle cx="590.1" cy="574.6" r="0.55"/><circle cx="363.3" cy="414.1" r="0.35"/><circle cx="572.2" cy="372.2" r="0.58"/><circle cx="428.2" cy="695.4" r="0.45"/><circle cx="442.5" cy="731.1" r="0.42"/><circle cx="537.8" cy="357.9" r="0.55"/><circle cx="610.2" cy="375.9" r="0.52"/><circle cx="429.0" cy="391.4" r="0.41"/><circle cx="528.8" cy="725.7" r="0.60"/><circle cx="613.4" cy="588.7" r="0.50"/><circle cx="401.1" cy="631.3" r="0.47"/><circle cx="451.5" cy="703.5" r="0.38"/><circle cx="396.1" cy="395.6" r="0.34"/><circle cx="510.1" cy="662.4" r="0.35"/><circle cx="488.2" cy="568.4" r="0.47"/><circle cx="465.2" cy="555.6" r="0.30"/><circle cx="374.8" cy="505.4" r="0.37"/><circle cx="553.0" cy="430.4" r="0.55"/><circle cx="421.6" cy="368.4" r="0.44"/><circle cx="458.8" cy="469.2" r="0.53"/><circle cx="416.7" cy="608.1" r="0.55"/><circle cx="475.4" cy="538.8" r="0.58"/><circle cx="514.0" cy="405.1" r="0.32"/><circle cx="381.0" cy="467.6" r="0.33"/><circle cx="525.5" cy="505.8" r="0.39"/><circle cx="490.6" cy="718.7" r="0.37"/><circle cx="399.4" cy="456.7" r="0.40"/><circle cx="592.0" cy="623.1" r="0.43"/><circle cx="402.3" cy="348.8" r="0.34"/><circle cx="576.1" cy="598.9" r="0.35"/><circle cx="519.4" cy="354.2" r="0.45"/><circle cx="445.5" cy="372.5" r="0.52"/><circle cx="542.8" cy="541.9" r="0.35"/><circle cx="530.7" cy="509.8" r="0.50"/><circle cx="383.3" cy="704.6" r="0.30"/><circle cx="416.8" cy="495.3" r="0.36"/><circle cx="382.4" cy="615.3" r="0.60"/><circle cx="445.4" cy="440.5" r="0.50"/><circle cx="416.8" cy="496.3" r="0.51"/><circle cx="469.8" cy="394.6" r="0.32"/><circle cx="498.5" cy="741.1" r="0.58"/><circle cx="385.5" cy="538.5" r="0.45"/><circle cx="409.5" cy="608.0" r="0.45"/><circle cx="566.2" cy="451.2" r="0.58"/><circle cx="567.7" cy="526.5" r="0.34"/><circle cx="483.3" cy="382.7" r="0.51"/><circle cx="537.9" cy="569.9" r="0.59"/><circle cx="371.5" cy="626.8" r="0.54"/><circle cx="388.8" cy="463.6" r="0.32"/><circle cx="508.7" cy="630.0" r="0.40"/><circle cx="537.3" cy="482.2" r="0.51"/><circle cx="430.6" cy="735.9" r="0.43"/><circle cx="360.9" cy="368.0" r="0.52"/><circle cx="580.5" cy="594.2" r="0.35"/><circle cx="582.4" cy="627.5" r="0.33"/><circle cx="457.1" cy="608.7" r="0.30"/><circle cx="370.8" cy="476.8" r="0.56"/><circle cx="614.1" cy="462.1" r="0.57"/><circle cx="560.4" cy="689.0" r="0.48"/><circle cx="607.2" cy="597.3" r="0.58"/><circle cx="504.3" cy="411.6" r="0.46"/><circle cx="483.2" cy="470.0" r="0.41"/><circle cx="490.2" cy="574.0" r="0.37"/><circle cx="430.7" cy="538.7" r="0.45"/><circle cx="466.8" cy="605.6" r="0.36"/><circle cx="495.6" cy="444.5" r="0.53"/><circle cx="539.4" cy="654.1" r="0.46"/><circle cx="423.5" cy="714.1" r="0.45"/><circle cx="455.7" cy="450.5" r="0.42"/><circle cx="540.7" cy="669.7" r="0.44"/><circle cx="546.4" cy="418.4" r="0.44"/><circle cx="451.3" cy="457.2" r="0.41"/><circle cx="552.5" cy="634.3" r="0.36"/><circle cx="419.6" cy="655.5" r="0.50"/><circle cx="532.4" cy="593.6" r="0.51"/><circle cx="429.6" cy="355.3" r="0.41"/><circle cx="368.3" cy="729.2" r="0.46"/><circle cx="530.9" cy="731.1" r="0.54"/><circle cx="418.5" cy="469.8" r="0.33"/><circle cx="562.9" cy="635.9" r="0.45"/><circle cx="454.2" cy="442.0" r="0.45"/><circle cx="541.6" cy="701.6" r="0.55"/><circle cx="581.3" cy="512.3" r="0.43"/><circle cx="440.1" cy="734.3" r="0.36"/><circle cx="400.2" cy="446.6" r="0.58"/><circle cx="577.4" cy="467.6" r="0.56"/><circle cx="587.1" cy="507.3" r="0.36"/><circle cx="557.0" cy="485.5" r="0.34"/><circle cx="590.2" cy="512.4" r="0.42"/><circle cx="511.8" cy="435.9" r="0.31"/><circle cx="459.5" cy="487.4" r="0.30"/><circle cx="454.8" cy="645.9" r="0.40"/><circle cx="533.3" cy="589.2" r="0.36"/><circle cx="365.2" cy="609.9" r="0.48"/><circle cx="434.9" cy="413.1" r="0.56"/><circle cx="591.9" cy="426.8" r="0.48"/><circle cx="506.5" cy="463.6" r="0.31"/><circle cx="443.0" cy="597.4" r="0.48"/><circle cx="490.1" cy="380.8" r="0.36"/><circle cx="439.4" cy="502.8" r="0.41"/><circle cx="590.1" cy="378.1" r="0.60"/><circle cx="421.3" cy="685.5" r="0.37"/><circle cx="509.7" cy="486.5" r="0.31"/><circle cx="563.1" cy="666.3" r="0.38"/><circle cx="557.9" cy="528.8" r="0.60"/><circle cx="373.9" cy="487.8" r="0.37"/><circle cx="519.4" cy="652.8" r="0.55"/><circle cx="499.8" cy="490.7" r="0.54"/><circle cx="386.7" cy="437.9" r="0.53"/><circle cx="472.3" cy="742.1" r="0.33"/><circle cx="477.8" cy="418.2" r="0.30"/><circle cx="383.8" cy="367.8" r="0.41"/><circle cx="470.3" cy="540.7" r="0.39"/><circle cx="539.0" cy="544.2" r="0.59"/><circle cx="403.2" cy="541.9" r="0.45"/><circle cx="454.8" cy="687.4" r="0.36"/><circle cx="583.8" cy="478.5" r="0.40"/><circle cx="516.8" cy="563.8" r="0.39"/><circle cx="381.5" cy="726.4" r="0.41"/><circle cx="389.2" cy="602.4" r="0.46"/><circle cx="443.5" cy="466.3" r="0.55"/><circle cx="446.3" cy="503.2" r="0.59"/><circle cx="452.0" cy="496.8" r="0.35"/><circle cx="528.9" cy="605.9" r="0.43"/><circle cx="463.5" cy="426.6" r="0.54"/><circle cx="476.6" cy="675.2" r="0.41"/><circle cx="547.0" cy="341.9" r="0.37"/><circle cx="605.0" cy="613.2" r="0.50"/><circle cx="486.7" cy="526.0" r="0.36"/><circle cx="404.1" cy="597.8" r="0.51"/><circle cx="426.0" cy="597.5" r="0.34"/><circle cx="516.3" cy="401.2" r="0.45"/><circle cx="440.1" cy="558.5" r="0.34"/><circle cx="483.3" cy="585.9" r="0.34"/><circle cx="438.7" cy="611.6" r="0.46"/><circle cx="517.3" cy="653.7" r="0.47"/><circle cx="416.7" cy="513.6" r="0.55"/><circle cx="504.5" cy="642.5" r="0.41"/><circle cx="474.4" cy="732.5" r="0.55"/><circle cx="526.5" cy="374.2" r="0.48"/><circle cx="368.5" cy="717.6" r="0.59"/><circle cx="545.7" cy="441.0" r="0.55"/><circle cx="405.2" cy="673.6" r="0.46"/><circle cx="364.0" cy="699.5" r="0.43"/><circle cx="571.7" cy="615.7" r="0.46"/><circle cx="579.9" cy="414.3" r="0.57"/><circle cx="446.4" cy="340.8" r="0.40"/><circle cx="376.9" cy="359.9" r="0.49"/><circle cx="390.8" cy="396.3" r="0.39"/><circle cx="431.1" cy="711.8" r="0.57"/><circle cx="581.9" cy="740.8" r="0.43"/><circle cx="562.9" cy="446.6" r="0.58"/><circle cx="566.7" cy="633.8" r="0.37"/><circle cx="383.3" cy="713.9" r="0.47"/><circle cx="516.1" cy="687.7" r="0.34"/><circle cx="538.3" cy="522.6" r="0.54"/><circle cx="476.3" cy="411.6" r="0.59"/><circle cx="431.7" cy="639.1" r="0.55"/><circle cx="423.2" cy="618.4" r="0.42"/><circle cx="417.1" cy="420.2" r="0.59"/><circle cx="453.9" cy="541.6" r="0.45"/><circle cx="366.8" cy="642.7" r="0.52"/><circle cx="583.4" cy="478.1" r="0.36"/><circle cx="448.6" cy="633.9" r="0.50"/><circle cx="463.5" cy="547.7" r="0.35"/><circle cx="594.2" cy="525.8" r="0.45"/><circle cx="560.7" cy="412.1" r="0.52"/><circle cx="450.1" cy="667.2" r="0.33"/><circle cx="430.4" cy="593.8" r="0.44"/><circle cx="456.1" cy="570.1" r="0.37"/><circle cx="471.5" cy="330.8" r="0.54"/><circle cx="424.8" cy="674.7" r="0.47"/><circle cx="513.4" cy="589.8" r="0.34"/><circle cx="558.2" cy="451.2" r="0.56"/><circle cx="560.5" cy="611.4" r="0.54"/><circle cx="471.4" cy="609.4" r="0.59"/><circle cx="408.2" cy="371.8" r="0.42"/><circle cx="489.9" cy="391.9" r="0.37"/><circle cx="581.0" cy="491.0" r="0.34"/><circle cx="406.7" cy="569.7" r="0.36"/><circle cx="481.1" cy="553.2" r="0.43"/><circle cx="488.4" cy="677.3" r="0.31"/><circle cx="597.1" cy="412.7" r="0.31"/><circle cx="555.7" cy="566.5" r="0.46"/><circle cx="415.5" cy="654.1" r="0.39"/><circle cx="545.4" cy="424.7" r="0.47"/><circle cx="525.3" cy="484.2" r="0.44"/><circle cx="376.6" cy="597.0" r="0.51"/><circle cx="399.1" cy="558.5" r="0.52"/><circle cx="385.8" cy="678.2" r="0.56"/><circle cx="372.9" cy="433.1" r="0.33"/><circle cx="424.4" cy="365.8" r="0.45"/><circle cx="423.8" cy="454.6" r="0.44"/><circle cx="454.7" cy="657.2" r="0.52"/><circle cx="389.1" cy="422.7" r="0.30"/><circle cx="444.0" cy="374.9" r="0.51"/><circle cx="559.0" cy="743.3" r="0.36"/><circle cx="369.4" cy="644.1" r="0.42"/><circle cx="597.4" cy="492.9" r="0.39"/><circle cx="378.5" cy="723.4" r="0.45"/><circle cx="472.4" cy="511.4" r="0.53"/><circle cx="571.9" cy="527.5" r="0.35"/><circle cx="463.6" cy="699.9" r="0.42"/><circle cx="528.5" cy="562.3" r="0.44"/><circle cx="506.6" cy="431.7" r="0.47"/><circle cx="580.5" cy="363.1" r="0.41"/><circle cx="584.6" cy="736.0" r="0.30"/><circle cx="519.9" cy="592.3" r="0.55"/><circle cx="479.8" cy="384.4" r="0.39"/><circle cx="541.7" cy="632.3" r="0.36"/><circle cx="523.9" cy="602.6" r="0.50"/><circle cx="365.6" cy="513.3" r="0.40"/><circle cx="512.3" cy="469.7" r="0.34"/><circle cx="530.9" cy="449.1" r="0.54"/><circle cx="438.0" cy="556.5" r="0.54"/><circle cx="389.5" cy="633.4" r="0.32"/><circle cx="598.7" cy="340.4" r="0.52"/><circle cx="454.0" cy="404.6" r="0.42"/><circle cx="487.8" cy="502.2" r="0.34"/><circle cx="493.3" cy="454.5" r="0.59"/><circle cx="457.7" cy="510.7" r="0.37"/><circle cx="607.0" cy="463.5" r="0.49"/><circle cx="572.3" cy="493.2" r="0.53"/><circle cx="431.1" cy="375.5" r="0.31"/><circle cx="474.5" cy="692.7" r="0.36"/><circle cx="472.3" cy="646.6" r="0.38"/><circle cx="398.9" cy="545.5" r="0.43"/><circle cx="599.3" cy="702.4" r="0.37"/><circle cx="503.0" cy="502.7" r="0.31"/><circle cx="473.3" cy="710.0" r="0.39"/><circle cx="509.5" cy="624.8" r="0.32"/><circle cx="595.7" cy="375.3" r="0.39"/><circle cx="542.5" cy="338.0" r="0.41"/><circle cx="392.3" cy="526.4" r="0.30"/><circle cx="398.5" cy="422.3" r="0.32"/><circle cx="383.1" cy="410.7" r="0.46"/><circle cx="394.9" cy="670.8" r="0.43"/><circle cx="424.2" cy="430.0" r="0.55"/><circle cx="372.0" cy="638.0" r="0.33"/><circle cx="600.9" cy="499.4" r="0.48"/><circle cx="580.1" cy="371.7" r="0.32"/><circle cx="536.9" cy="573.9" r="0.52"/><circle cx="430.8" cy="536.2" r="0.36"/><circle cx="471.5" cy="446.9" r="0.48"/><circle cx="436.3" cy="444.0" r="0.49"/><circle cx="381.8" cy="662.5" r="0.45"/><circle cx="418.4" cy="377.7" r="0.45"/><circle cx="488.5" cy="628.6" r="0.41"/><circle cx="465.1" cy="700.4" r="0.38"/><circle cx="610.2" cy="700.4" r="0.60"/><circle cx="600.5" cy="436.7" r="0.54"/><circle cx="516.0" cy="414.7" r="0.60"/><circle cx="525.2" cy="666.0" r="0.47"/><circle cx="380.3" cy="688.3" r="0.35"/><circle cx="426.1" cy="585.7" r="0.36"/><circle cx="478.0" cy="626.1" r="0.33"/><circle cx="528.5" cy="373.4" r="0.44"/><circle cx="525.6" cy="615.2" r="0.31"/><circle cx="408.7" cy="728.5" r="0.42"/><circle cx="468.3" cy="485.5" r="0.51"/><circle cx="548.8" cy="599.8" r="0.42"/><circle cx="505.2" cy="543.9" r="0.36"/><circle cx="602.1" cy="730.4" r="0.53"/><circle cx="613.1" cy="523.2" r="0.55"/><circle cx="421.4" cy="638.2" r="0.51"/><circle cx="599.3" cy="675.9" r="0.56"/><circle cx="428.3" cy="656.8" r="0.44"/><circle cx="439.7" cy="482.9" r="0.54"/><circle cx="574.9" cy="680.5" r="0.50"/><circle cx="403.4" cy="394.6" r="0.47"/><circle cx="414.1" cy="469.7" r="0.33"/><circle cx="399.5" cy="627.6" r="0.37"/><circle cx="576.2" cy="466.6" r="0.55"/><circle cx="437.2" cy="441.0" r="0.42"/><circle cx="363.1" cy="510.8" r="0.41"/><circle cx="363.2" cy="687.5" r="0.41"/><circle cx="360.1" cy="728.6" r="0.37"/><circle cx="424.5" cy="340.1" r="0.33"/><circle cx="541.0" cy="571.5" r="0.45"/><circle cx="422.8" cy="449.0" r="0.59"/><circle cx="454.9" cy="740.6" r="0.57"/><circle cx="391.8" cy="682.0" r="0.31"/><circle cx="541.3" cy="666.0" r="0.51"/><circle cx="500.2" cy="667.3" r="0.35"/><circle cx="497.6" cy="440.3" r="0.42"/><circle cx="408.8" cy="623.9" r="0.47"/><circle cx="558.7" cy="590.7" r="0.48"/><circle cx="595.1" cy="667.2" r="0.47"/><circle cx="443.2" cy="715.1" r="0.41"/><circle cx="386.0" cy="468.3" r="0.51"/><circle cx="597.5" cy="598.0" r="0.50"/><circle cx="599.0" cy="652.8" r="0.43"/><circle cx="477.8" cy="645.3" r="0.40"/><circle cx="388.0" cy="587.2" r="0.54"/><circle cx="423.3" cy="613.7" r="0.57"/><circle cx="392.6" cy="386.3" r="0.45"/><circle cx="445.3" cy="724.0" r="0.60"/><circle cx="473.6" cy="659.1" r="0.49"/><circle cx="404.2" cy="733.3" r="0.35"/><circle cx="379.4" cy="517.8" r="0.31"/><circle cx="482.6" cy="501.0" r="0.59"/><circle cx="465.5" cy="682.7" r="0.53"/><circle cx="509.5" cy="428.7" r="0.39"/><circle cx="485.3" cy="494.0" r="0.49"/><circle cx="488.9" cy="464.1" r="0.48"/><circle cx="614.1" cy="414.1" r="0.40"/><circle cx="363.1" cy="368.9" r="0.32"/><circle cx="467.8" cy="677.2" r="0.51"/><circle cx="606.4" cy="677.3" r="0.48"/><circle cx="508.0" cy="335.2" r="0.42"/><circle cx="426.7" cy="587.6" r="0.32"/><circle cx="498.3" cy="485.9" r="0.45"/><circle cx="463.1" cy="372.4" r="0.52"/><circle cx="564.1" cy="578.2" r="0.33"/><circle cx="512.8" cy="691.5" r="0.60"/><circle cx="553.4" cy="349.0" r="0.56"/><circle cx="529.6" cy="444.8" r="0.58"/><circle cx="570.7" cy="701.5" r="0.37"/><circle cx="507.1" cy="487.2" r="0.39"/><circle cx="554.1" cy="585.9" r="0.40"/><circle cx="498.5" cy="715.3" r="0.47"/><circle cx="592.9" cy="564.9" r="0.60"/><circle cx="367.4" cy="520.9" r="0.47"/><circle cx="545.3" cy="732.0" r="0.49"/><circle cx="481.9" cy="593.2" r="0.46"/><circle cx="539.8" cy="723.0" r="0.30"/><circle cx="441.7" cy="693.7" r="0.32"/><circle cx="561.5" cy="342.8" r="0.49"/><circle cx="564.1" cy="428.8" r="0.41"/><circle cx="417.7" cy="622.5" r="0.46"/><circle cx="514.4" cy="465.1" r="0.48"/><circle cx="603.4" cy="653.4" r="0.59"/><circle cx="423.0" cy="544.2" r="0.42"/><circle cx="448.2" cy="663.4" r="0.35"/><circle cx="502.4" cy="651.2" r="0.58"/><circle cx="364.7" cy="442.4" r="0.45"/><circle cx="598.8" cy="397.7" r="0.55"/><circle cx="461.3" cy="557.3" r="0.58"/><circle cx="376.4" cy="466.7" r="0.35"/><circle cx="394.1" cy="456.0" r="0.51"/><circle cx="508.0" cy="380.5" r="0.54"/><circle cx="489.4" cy="389.4" r="0.55"/><circle cx="569.3" cy="420.0" r="0.58"/><circle cx="566.6" cy="425.1" r="0.30"/><circle cx="581.2" cy="672.8" r="0.33"/><circle cx="555.4" cy="650.9" r="0.49"/><circle cx="572.3" cy="738.7" r="0.40"/><circle cx="572.7" cy="712.2" r="0.39"/><circle cx="534.3" cy="614.0" r="0.55"/><circle cx="504.6" cy="444.4" r="0.38"/><circle cx="498.4" cy="386.2" r="0.56"/><circle cx="586.7" cy="430.5" r="0.51"/><circle cx="531.7" cy="380.6" r="0.53"/><circle cx="555.4" cy="457.1" r="0.33"/><circle cx="431.9" cy="650.2" r="0.44"/><circle cx="567.9" cy="396.2" r="0.33"/><circle cx="449.0" cy="695.1" r="0.35"/><circle cx="378.7" cy="642.4" r="0.33"/><circle cx="530.3" cy="364.6" r="0.37"/><circle cx="529.2" cy="692.5" r="0.42"/><circle cx="474.6" cy="342.9" r="0.40"/><circle cx="421.7" cy="657.3" r="0.51"/><circle cx="560.0" cy="550.7" r="0.51"/><circle cx="392.4" cy="489.8" r="0.39"/><circle cx="432.0" cy="636.8" r="0.36"/><circle cx="443.0" cy="447.2" r="0.56"/><circle cx="522.8" cy="529.5" r="0.41"/><circle cx="595.0" cy="719.8" r="0.43"/><circle cx="504.5" cy="687.9" r="0.38"/><circle cx="426.0" cy="372.8" r="0.45"/><circle cx="556.0" cy="395.0" r="0.43"/><circle cx="612.6" cy="529.7" r="0.41"/><circle cx="574.1" cy="700.2" r="0.41"/><circle cx="391.5" cy="594.2" r="0.52"/><circle cx="595.4" cy="603.9" r="0.39"/><circle cx="491.3" cy="449.4" r="0.43"/><circle cx="479.4" cy="708.6" r="0.57"/><circle cx="596.2" cy="528.4" r="0.59"/><circle cx="395.4" cy="712.3" r="0.49"/><circle cx="582.5" cy="501.5" r="0.60"/><circle cx="366.4" cy="681.9" r="0.55"/><circle cx="455.4" cy="673.9" r="0.36"/><circle cx="551.9" cy="524.4" r="0.42"/><circle cx="410.1" cy="662.0" r="0.52"/><circle cx="382.7" cy="735.9" r="0.37"/><circle cx="455.7" cy="502.1" r="0.47"/><circle cx="587.0" cy="722.2" r="0.49"/><circle cx="453.2" cy="374.6" r="0.32"/><circle cx="492.3" cy="572.0" r="0.43"/><circle cx="610.5" cy="501.7" r="0.41"/><circle cx="466.6" cy="401.3" r="0.58"/><circle cx="510.7" cy="555.2" r="0.43"/><circle cx="423.8" cy="460.9" r="0.45"/><circle cx="473.8" cy="736.4" r="0.47"/><circle cx="412.8" cy="352.3" r="0.35"/><circle cx="448.2" cy="654.7" r="0.57"/><circle cx="420.3" cy="653.8" r="0.43"/><circle cx="497.1" cy="551.2" r="0.31"/><circle cx="376.9" cy="607.0" r="0.51"/><circle cx="457.0" cy="711.4" r="0.55"/><circle cx="437.0" cy="357.8" r="0.47"/><circle cx="526.9" cy="423.1" r="0.31"/><circle cx="484.2" cy="344.2" r="0.52"/><circle cx="519.5" cy="445.9" r="0.43"/><circle cx="419.4" cy="407.2" r="0.35"/><circle cx="568.0" cy="518.1" r="0.51"/><circle cx="448.6" cy="664.8" r="0.48"/><circle cx="526.8" cy="493.0" r="0.47"/><circle cx="408.6" cy="734.1" r="0.50"/><circle cx="495.8" cy="595.1" r="0.33"/><circle cx="445.3" cy="425.7" r="0.55"/><circle cx="363.3" cy="514.5" r="0.56"/><circle cx="559.6" cy="628.3" r="0.39"/><circle cx="419.2" cy="622.3" r="0.39"/><circle cx="544.4" cy="475.2" r="0.53"/><circle cx="506.1" cy="668.4" r="0.60"/><circle cx="456.5" cy="739.4" r="0.30"/><circle cx="583.7" cy="342.4" r="0.46"/><circle cx="459.0" cy="649.5" r="0.39"/><circle cx="413.1" cy="655.4" r="0.47"/><circle cx="552.7" cy="533.1" r="0.31"/><circle cx="556.7" cy="420.5" r="0.44"/><circle cx="360.1" cy="437.5" r="0.50"/><circle cx="554.9" cy="594.1" r="0.43"/><circle cx="546.9" cy="607.6" r="0.36"/><circle cx="496.5" cy="578.1" r="0.52"/><circle cx="410.4" cy="459.0" r="0.40"/><circle cx="384.5" cy="474.6" r="0.52"/><circle cx="507.3" cy="401.8" r="0.52"/><circle cx="389.8" cy="641.8" r="0.34"/><circle cx="384.6" cy="434.5" r="0.45"/><circle cx="428.9" cy="696.9" r="0.58"/><circle cx="432.3" cy="641.2" r="0.51"/><circle cx="503.1" cy="435.8" r="0.58"/><circle cx="603.9" cy="335.5" r="0.40"/><circle cx="441.9" cy="412.4" r="0.43"/><circle cx="589.0" cy="339.9" r="0.55"/><circle cx="438.8" cy="335.6" r="0.57"/><circle cx="429.4" cy="418.0" r="0.34"/><circle cx="453.6" cy="379.6" r="0.35"/><circle cx="423.8" cy="570.0" r="0.43"/><circle cx="437.8" cy="548.3" r="0.53"/><circle cx="544.6" cy="472.6" r="0.58"/><circle cx="561.8" cy="563.1" r="0.44"/><circle cx="444.0" cy="385.7" r="0.57"/><circle cx="515.1" cy="370.9" r="0.58"/><circle cx="586.2" cy="343.9" r="0.51"/><circle cx="420.7" cy="552.3" r="0.55"/><circle cx="449.4" cy="536.8" r="0.50"/><circle cx="409.0" cy="590.0" r="0.43"/><circle cx="610.5" cy="407.9" r="0.51"/><circle cx="370.5" cy="443.8" r="0.34"/><circle cx="398.0" cy="549.2" r="0.35"/><circle cx="562.7" cy="370.0" r="0.49"/><circle cx="579.6" cy="382.5" r="0.37"/><circle cx="555.1" cy="525.1" r="0.58"/><circle cx="446.2" cy="495.2" r="0.59"/><circle cx="447.7" cy="731.0" r="0.57"/><circle cx="411.1" cy="556.5" r="0.58"/><circle cx="389.9" cy="682.2" r="0.53"/><circle cx="551.1" cy="579.3" r="0.33"/><circle cx="604.4" cy="372.5" r="0.54"/><circle cx="544.4" cy="461.7" r="0.51"/><circle cx="464.7" cy="641.6" r="0.31"/><circle cx="598.0" cy="489.5" r="0.54"/><circle cx="480.3" cy="667.1" r="0.39"/><circle cx="499.0" cy="340.5" r="0.45"/><circle cx="380.2" cy="686.6" r="0.50"/><circle cx="468.4" cy="734.3" r="0.58"/><circle cx="604.0" cy="364.2" r="0.51"/></g>
<g fill="#c2c2c2" clip-path="url(#fatclip)"><ellipse cx="547.0" cy="338.6" rx="2.1" ry="1.2" transform="rotate(-16 547.0 338.6)"/><ellipse cx="558.8" cy="342.0" rx="1.7" ry="1.1" transform="rotate(-29 558.8 342.0)"/><ellipse cx="555.0" cy="352.0" rx="1.7" ry="1.1" transform="rotate(-43 555.0 352.0)"/><ellipse cx="543.3" cy="363.3" rx="2.2" ry="1.2" transform="rotate(-41 543.3 363.3)"/><ellipse cx="562.5" cy="363.3" rx="2.2" ry="1.6" transform="rotate(-39 562.5 363.3)"/><ellipse cx="552.0" cy="386.8" rx="1.9" ry="1.3" transform="rotate(-2 552.0 386.8)"/><ellipse cx="545.8" cy="400.2" rx="2.4" ry="1.5" transform="rotate(-1 545.8 400.2)"/><ellipse cx="557.5" cy="403.2" rx="1.7" ry="1.2" transform="rotate(-32 557.5 403.2)"/><ellipse cx="544.6" cy="405.4" rx="1.8" ry="1.0" transform="rotate(-31 544.6 405.4)"/><ellipse cx="563.4" cy="411.0" rx="2.7" ry="1.6" transform="rotate(-19 563.4 411.0)"/><ellipse cx="554.5" cy="413.0" rx="2.5" ry="1.6" transform="rotate(-20 554.5 413.0)"/><ellipse cx="540.8" cy="412.8" rx="1.7" ry="0.9" transform="rotate(-36 540.8 412.8)"/><ellipse cx="488.0" cy="430.0" rx="2.6" ry="1.6" transform="rotate(-31 488.0 430.0)"/><ellipse cx="486.6" cy="436.7" rx="2.4" ry="1.6" transform="rotate(-32 486.6 436.7)"/><ellipse cx="499.6" cy="433.5" rx="2.7" ry="1.9" transform="rotate(-34 499.6 433.5)"/><ellipse cx="496.0" cy="443.2" rx="2.4" ry="1.6" transform="rotate(-6 496.0 443.2)"/><ellipse cx="505.4" cy="440.6" rx="2.6" ry="1.6" transform="rotate(-1 505.4 440.6)"/><ellipse cx="483.6" cy="448.8" rx="1.8" ry="1.1" transform="rotate(-11 483.6 448.8)"/><ellipse cx="503.1" cy="454.8" rx="1.8" ry="1.2" transform="rotate(-43 503.1 454.8)"/><ellipse cx="484.1" cy="454.8" rx="2.5" ry="1.8" transform="rotate(-19 484.1 454.8)"/><ellipse cx="491.6" cy="461.6" rx="2.8" ry="1.7" transform="rotate(-14 491.6 461.6)"/><ellipse cx="553.8" cy="413.2" rx="2.4" ry="1.6" transform="rotate(-24 553.8 413.2)"/><ellipse cx="541.3" cy="418.0" rx="2.8" ry="2.1" transform="rotate(-24 541.3 418.0)"/><ellipse cx="542.2" cy="425.1" rx="2.5" ry="1.4" transform="rotate(-13 542.2 425.1)"/><ellipse cx="561.2" cy="424.6" rx="2.5" ry="1.9" transform="rotate(-8 561.2 424.6)"/><ellipse cx="542.2" cy="452.3" rx="2.0" ry="1.3" transform="rotate(-15 542.2 452.3)"/><ellipse cx="536.9" cy="455.3" rx="1.6" ry="1.0" transform="rotate(-37 536.9 455.3)"/><ellipse cx="526.2" cy="461.6" rx="1.8" ry="1.0" transform="rotate(-10 526.2 461.6)"/><ellipse cx="548.4" cy="463.0" rx="1.8" ry="1.1" transform="rotate(-27 548.4 463.0)"/><ellipse cx="521.8" cy="466.5" rx="2.8" ry="1.6" transform="rotate(-25 521.8 466.5)"/><ellipse cx="538.7" cy="466.9" rx="2.4" ry="1.7" transform="rotate(-8 538.7 466.9)"/><ellipse cx="546.7" cy="471.3" rx="2.8" ry="1.7" transform="rotate(-26 546.7 471.3)"/><ellipse cx="536.0" cy="480.2" rx="2.1" ry="1.5" transform="rotate(-2 536.0 480.2)"/><ellipse cx="522.7" cy="476.1" rx="1.8" ry="1.1" transform="rotate(-35 522.7 476.1)"/><ellipse cx="507.6" cy="478.4" rx="1.9" ry="1.2" transform="rotate(-18 507.6 478.4)"/><ellipse cx="527.1" cy="487.3" rx="2.0" ry="1.1" transform="rotate(-26 527.1 487.3)"/><ellipse cx="525.0" cy="492.1" rx="2.1" ry="1.4" transform="rotate(-2 525.0 492.1)"/><ellipse cx="562.7" cy="441.1" rx="2.6" ry="1.7" transform="rotate(-17 562.7 441.1)"/><ellipse cx="568.0" cy="448.2" rx="2.5" ry="1.4" transform="rotate(-5 568.0 448.2)"/><ellipse cx="501.3" cy="514.9" rx="2.7" ry="2.0" transform="rotate(-9 501.3 514.9)"/><ellipse cx="512.9" cy="518.4" rx="2.1" ry="1.4" transform="rotate(-40 512.9 518.4)"/><ellipse cx="556.7" cy="521.1" rx="2.5" ry="1.4" transform="rotate(-42 556.7 521.1)"/><ellipse cx="552.0" cy="524.2" rx="1.9" ry="1.1" transform="rotate(-30 552.0 524.2)"/><ellipse cx="562.9" cy="531.5" rx="1.7" ry="0.9" transform="rotate(-38 562.9 531.5)"/><ellipse cx="553.2" cy="535.5" rx="1.7" ry="1.1" transform="rotate(-44 553.2 535.5)"/><ellipse cx="561.6" cy="540.7" rx="2.8" ry="1.9" transform="rotate(-38 561.6 540.7)"/><ellipse cx="550.3" cy="548.8" rx="2.0" ry="1.2" transform="rotate(-29 550.3 548.8)"/><ellipse cx="540.8" cy="530.8" rx="1.8" ry="1.3" transform="rotate(-0 540.8 530.8)"/><ellipse cx="557.7" cy="580.0" rx="2.3" ry="1.5" transform="rotate(-41 557.7 580.0)"/><ellipse cx="556.4" cy="586.6" rx="1.7" ry="1.1" transform="rotate(-33 556.4 586.6)"/><ellipse cx="569.4" cy="584.0" rx="2.8" ry="1.6" transform="rotate(-44 569.4 584.0)"/><ellipse cx="565.9" cy="593.5" rx="2.9" ry="1.9" transform="rotate(-38 565.9 593.5)"/><ellipse cx="575.4" cy="590.9" rx="2.4" ry="1.3" transform="rotate(-21 575.4 590.9)"/><ellipse cx="553.8" cy="599.0" rx="3.0" ry="2.1" transform="rotate(-14 553.8 599.0)"/><ellipse cx="553.8" cy="604.8" rx="2.0" ry="1.2" transform="rotate(-37 553.8 604.8)"/><ellipse cx="573.3" cy="604.8" rx="2.7" ry="1.8" transform="rotate(-10 573.3 604.8)"/><ellipse cx="561.2" cy="611.7" rx="2.1" ry="1.2" transform="rotate(-8 561.2 611.7)"/><ellipse cx="573.7" cy="615.2" rx="3.0" ry="2.1" transform="rotate(-9 573.7 615.2)"/><ellipse cx="371.8" cy="563.6" rx="2.7" ry="1.9" transform="rotate(-35 371.8 563.6)"/><ellipse cx="382.2" cy="558.1" rx="2.3" ry="1.4" transform="rotate(-44 382.2 558.1)"/><ellipse cx="386.8" cy="567.7" rx="1.6" ry="1.0" transform="rotate(-33 386.8 567.7)"/><ellipse cx="449.5" cy="634.4" rx="2.6" ry="1.9" transform="rotate(-25 449.5 634.4)"/><ellipse cx="440.0" cy="626.3" rx="2.9" ry="2.2" transform="rotate(-2 440.0 626.3)"/><ellipse cx="455.0" cy="629.0" rx="2.1" ry="1.3" transform="rotate(-35 455.0 629.0)"/><ellipse cx="461.7" cy="619.5" rx="1.9" ry="1.1" transform="rotate(-17 461.7 619.5)"/><ellipse cx="408.6" cy="657.6" rx="2.9" ry="2.1" transform="rotate(-23 408.6 657.6)"/><ellipse cx="401.8" cy="684.9" rx="2.5" ry="1.8" transform="rotate(-41 401.8 684.9)"/><ellipse cx="407.2" cy="683.5" rx="2.5" ry="1.8" transform="rotate(-10 407.2 683.5)"/><ellipse cx="405.9" cy="671.2" rx="2.7" ry="1.7" transform="rotate(-37 405.9 671.2)"/><ellipse cx="467.2" cy="728.4" rx="2.7" ry="1.7" transform="rotate(-9 467.2 728.4)"/><ellipse cx="469.9" cy="713.5" rx="3.0" ry="1.9" transform="rotate(-27 469.9 713.5)"/><ellipse cx="460.4" cy="718.9" rx="2.9" ry="2.0" transform="rotate(-37 460.4 718.9)"/><ellipse cx="572.9" cy="696.8" rx="1.8" ry="1.0" transform="rotate(-4 572.9 696.8)"/><ellipse cx="583.1" cy="706.0" rx="2.7" ry="1.6" transform="rotate(-8 583.1 706.0)"/><ellipse cx="594.0" cy="716.5" rx="3.0" ry="2.0" transform="rotate(-29 594.0 716.5)"/><ellipse cx="581.7" cy="716.5" rx="2.4" ry="1.4" transform="rotate(-44 581.7 716.5)"/><ellipse cx="593.3" cy="697.4" rx="3.0" ry="2.0" transform="rotate(-21 593.3 697.4)"/><ellipse cx="592.0" cy="692.0" rx="2.9" ry="1.9" transform="rotate(-6 592.0 692.0)"/><ellipse cx="594.0" cy="710.4" rx="2.8" ry="1.6" transform="rotate(-34 594.0 710.4)"/><ellipse cx="574.9" cy="711.0" rx="2.0" ry="1.2" transform="rotate(-19 574.9 711.0)"/><ellipse cx="570.8" cy="687.2" rx="2.0" ry="1.2" transform="rotate(-39 570.8 687.2)"/><ellipse cx="583.1" cy="687.2" rx="2.9" ry="1.8" transform="rotate(-24 583.1 687.2)"/><ellipse cx="577.0" cy="672.2" rx="2.4" ry="1.8" transform="rotate(-26 577.0 672.2)"/><ellipse cx="588.6" cy="674.3" rx="2.9" ry="1.9" transform="rotate(-21 588.6 674.3)"/><ellipse cx="567.4" cy="681.5" rx="2.3" ry="1.3" transform="rotate(-25 567.4 681.5)"/><ellipse cx="529.3" cy="694.7" rx="1.9" ry="1.0" transform="rotate(-9 529.3 694.7)"/><ellipse cx="532.0" cy="704.3" rx="1.8" ry="1.2" transform="rotate(-12 532.0 704.3)"/><ellipse cx="528.6" cy="709.3" rx="2.4" ry="1.5" transform="rotate(-22 528.6 709.3)"/><ellipse cx="520.4" cy="717.9" rx="2.4" ry="1.7" transform="rotate(-40 520.4 717.9)"/><ellipse cx="542.2" cy="689.7" rx="2.4" ry="1.4" transform="rotate(-33 542.2 689.7)"/><ellipse cx="523.8" cy="679.0" rx="2.7" ry="1.7" transform="rotate(-20 523.8 679.0)"/><ellipse cx="536.8" cy="679.7" rx="2.7" ry="2.0" transform="rotate(-25 536.8 679.7)"/><ellipse cx="521.1" cy="684.5" rx="2.5" ry="1.6" transform="rotate(-22 521.1 684.5)"/></g>
<path d="M349.8,564.9 C351.4,563.6 357.1,560.3 359.7,557.4 C362.3,554.5 363.6,550.6 365.6,547.5 C367.6,544.4 369.0,540.9 371.6,538.6 C374.2,536.3 377.9,535.2 381.5,533.7 C385.1,532.2 390.4,531.4 393.4,529.7 C396.4,528.1 397.9,526.3 399.3,523.8 C400.7,521.3 401.2,517.9 401.8,514.9 C402.4,511.9 402.3,508.7 402.8,505.9 C403.3,503.1 403.7,500.2 405.0,498.0 C406.3,495.8 407.7,494.3 410.5,492.9 C413.3,491.5 417.5,490.2 421.6,489.8 C425.7,489.4 428.2,490.1 435.0,490.4 C441.8,490.7 456.0,492.6 462.6,491.7 C469.2,490.8 474.4,486.8 474.8,484.8 C475.2,482.9 468.6,481.0 465.0,480.0 C461.4,479.0 456.4,479.7 452.9,478.7 C449.4,477.7 445.8,476.7 444.0,474.2 C442.2,471.7 441.3,467.8 442.2,463.6 C443.1,459.5 445.4,454.6 449.3,449.3 C453.2,444.0 460.2,436.5 465.3,431.6 C470.4,426.7 474.9,422.4 479.6,420.0 C484.4,417.6 488.5,417.3 493.8,417.3 C499.1,417.3 506.0,418.8 511.6,420.0 C517.2,421.2 523.6,425.1 527.6,424.4 C531.6,423.7 534.7,417.7 535.6,415.6 C536.5,413.5 535.4,414.1 532.9,412.0 C530.4,409.9 523.1,406.1 520.4,403.1 C517.7,400.1 517.1,397.5 516.5,394.0 C515.9,390.5 516.1,386.3 516.7,382.0 C517.3,377.7 517.9,372.7 520.0,368.0 C522.1,363.3 525.6,359.2 529.5,354.0 C533.4,348.8 538.2,342.0 543.5,336.5 C548.8,331.0 556.6,324.0 561.0,321.0 C565.4,318.0 567.5,318.5 570.0,318.3 C572.5,318.1 574.0,318.0 576.0,319.8 C578.0,321.6 581.0,325.2 582.2,328.9 C583.4,332.6 583.3,333.4 583.3,342.2 C583.3,351.0 582.3,368.9 582.3,381.9 C582.2,394.9 582.7,409.5 583.0,420.0 C583.3,430.5 583.7,434.5 584.0,444.8 C584.3,455.1 585.7,473.9 584.8,481.9 C583.9,489.9 584.2,490.1 578.6,493.0 C573.0,495.9 558.8,498.0 551.4,499.2 C544.0,500.4 537.3,499.4 534.0,500.4 C530.7,501.4 530.8,503.3 531.6,505.4 C532.4,507.5 532.8,511.4 539.0,512.8 C545.2,514.2 561.3,512.1 568.7,514.0 C576.1,515.9 580.1,518.2 583.6,524.0 C587.1,529.8 588.5,538.6 589.8,548.7 C591.1,558.8 591.3,575.7 591.2,584.8 C591.1,593.9 590.6,598.1 589.3,603.3 C587.9,608.4 586.0,612.6 583.1,615.7 C580.2,618.8 576.3,620.8 572.0,621.9 C567.7,623.0 562.1,622.1 557.1,622.5 C552.1,622.9 545.8,623.1 542.3,624.4 C538.8,625.7 536.7,628.8 536.1,630.5 C535.5,632.2 536.8,633.9 538.6,634.9 C540.5,635.9 543.1,636.7 547.2,636.7 C551.3,636.7 557.9,635.3 563.3,634.9 C568.7,634.5 574.6,633.9 579.4,634.3 C584.1,634.7 588.1,635.3 591.8,637.4 C595.5,639.5 598.8,642.8 601.7,646.6 C604.6,650.4 606.4,652.9 609.1,660.0 C611.8,667.1 617.2,680.1 618.0,689.0 C618.8,697.9 617.3,706.9 613.6,713.6 C609.9,720.3 603.2,725.3 595.8,729.2 C588.4,733.1 579.0,735.3 569.0,737.0 C559.0,738.7 543.5,739.8 535.7,739.2 C527.9,738.6 525.5,736.8 522.3,733.6 C519.1,730.5 517.8,727.0 516.7,720.3 C515.6,713.6 516.2,699.1 515.6,693.5 C515.0,687.9 514.7,688.0 513.4,686.9 C512.1,685.8 509.5,685.8 507.8,686.9 C506.1,688.0 504.5,688.7 503.4,693.5 C502.3,698.3 502.1,709.1 501.2,715.8 C500.3,722.5 499.9,729.3 497.8,733.6 C495.8,737.9 492.5,739.7 488.9,741.4 C485.3,743.1 484.1,744.9 476.0,744.0 C467.9,743.1 447.8,739.3 440.0,736.0 C432.2,732.7 430.7,729.3 429.0,724.0 C427.3,718.7 429.0,710.3 430.0,704.0 C431.0,697.7 434.3,691.0 435.0,686.0 C435.7,681.0 435.2,676.8 434.0,674.0 C432.8,671.2 430.0,668.3 428.0,669.0 C426.0,669.7 424.7,672.8 422.0,678.0 C419.3,683.2 415.7,695.5 412.0,700.0 C408.3,704.5 405.3,705.7 400.0,705.0 C394.7,704.3 385.7,699.8 380.0,696.0 C374.3,692.2 369.2,688.0 366.0,682.0 C362.8,676.0 360.9,665.5 360.7,660.0 C360.4,654.5 363.7,652.4 364.5,649.1 C365.3,645.8 366.5,642.9 365.7,640.4 C364.9,637.9 362.4,635.9 359.5,634.3 C356.6,632.6 351.0,632.1 348.4,630.5 C345.8,628.9 344.9,627.3 344.0,624.4 C343.1,621.5 343.3,616.9 342.8,613.2 C342.3,609.5 341.2,603.9 340.9,602.0" fill="none" stroke="#262626" stroke-width="1.3"/>
<path d="M537.0,319.0 C539.2,317.0 546.2,310.1 550.0,307.0 C553.8,303.9 556.5,302.0 560.0,300.5 C563.5,299.0 567.5,298.1 571.2,298.0 C574.9,297.9 578.9,298.0 582.2,300.0 C585.5,302.0 588.9,305.9 591.1,310.0 C593.3,314.1 594.5,319.0 595.5,324.4 C596.5,329.8 597.0,337.6 597.2,342.2 C597.4,346.8 596.9,350.4 596.8,352.0" fill="none" stroke="#262626" stroke-width="1.35"/>
<path d="M590.0,747.0 C593.3,745.9 604.2,743.5 610.0,740.5 C615.8,737.5 621.3,734.1 625.0,729.0 C628.7,723.9 630.8,715.7 632.0,710.0 C633.2,704.3 632.2,698.3 632.0,695.0 C631.8,691.7 631.2,690.8 631.0,690.0" fill="none" stroke="#111" stroke-width="1.8"/>
<path d="M624.8,172.0 C624.8,174.2 625.1,177.9 624.8,185.0 C624.5,192.1 624.4,204.5 622.8,214.7 C621.1,224.9 617.0,238.0 614.9,246.4 C612.8,254.8 611.2,259.4 609.9,265.0 C608.5,270.6 607.8,274.2 606.8,280.0 C605.8,285.8 605.2,289.3 603.6,300.0 C602.0,310.7 598.7,327.7 597.0,344.4 C595.3,361.1 594.3,384.1 593.6,400.0 C592.9,415.9 592.8,428.3 592.8,440.0 C592.8,451.7 593.6,455.7 593.9,470.0 C594.2,484.3 594.2,510.7 594.8,525.7 C595.4,540.7 595.8,546.0 597.4,560.0 C599.0,574.0 601.4,596.6 604.2,609.5 C607.0,622.4 610.9,628.3 614.3,637.1 C617.7,645.9 621.9,653.6 624.7,662.4 C627.5,671.2 628.8,683.7 631.0,690.0 C633.2,696.3 635.5,697.2 638.0,700.0 C640.5,702.8 643.7,705.6 646.0,707.0 C648.3,708.4 651.0,708.2 652.0,708.5  C653.2,706.8 659.3,701.4 659.5,698.1 C659.7,694.8 655.4,692.1 653.4,688.6 C651.4,685.1 648.9,682.1 647.3,677.3 C645.7,672.5 645.4,667.9 643.9,660.0 C642.4,652.1 639.8,639.7 638.1,629.7 C636.4,619.7 635.0,609.6 633.6,600.0 C632.2,590.4 631.4,584.4 630.0,572.0 C628.6,559.6 626.4,542.7 625.5,525.7 C624.6,508.7 624.6,484.3 624.5,470.0 C624.4,455.7 624.8,451.7 625.0,440.0 C625.2,428.3 625.2,415.9 625.6,400.0 C626.0,384.1 626.6,361.1 627.6,344.4 C628.6,327.7 628.7,318.9 631.5,300.0 C634.3,281.1 640.8,249.1 644.4,230.8 C648.0,212.5 651.4,199.8 653.3,190.0 C655.2,180.2 655.5,175.0 656.0,172.0Z" fill="#b3b3b3" stroke="#111" stroke-width="1.7"/>
<g fill="none" stroke="#1a1a1a" stroke-width="1.15" clip-path="url(#pecclip)"><path d="M635.1,197.4 C634.3,199.5 632.8,204.4 632.2,207.8 C631.6,211.2 631.4,214.6 631.7,217.7 C632.0,220.8 633.4,224.5 634.2,226.6 C635.0,228.7 635.7,230.5 636.6,230.5 C637.5,230.5 638.9,228.7 639.6,226.6 C640.3,224.5 639.9,220.7 640.6,217.7 C641.3,214.7 643.4,211.5 643.6,208.8 C643.8,206.2 642.3,203.7 641.6,201.8 C640.9,199.9 640.4,198.5 639.6,197.4 C638.8,196.3 637.8,195.0 637.0,195.0 C636.2,195.0 635.9,195.3 635.1,197.4Z"/><path d="M617.3,301.1 C615.8,301.1 613.5,306.6 612.0,310.0 C610.5,313.4 608.6,316.9 608.0,321.6 C607.4,326.3 607.7,333.3 608.5,338.0 C609.3,342.7 611.2,346.6 613.0,350.0 C614.8,353.4 617.4,359.5 619.1,358.7 C620.8,357.9 622.1,350.3 623.0,345.0 C623.9,339.7 625.0,332.9 624.7,327.1 C624.4,321.3 622.2,314.3 621.0,310.0 C619.8,305.7 618.8,301.1 617.3,301.1Z"/><path d="M605.4,368.0 C603.8,369.1 601.7,374.0 600.8,377.4 C599.9,380.8 599.6,385.8 599.9,388.6 C600.2,391.4 601.4,393.5 602.6,394.1 C603.8,394.7 605.9,394.2 607.3,392.3 C608.7,390.4 610.5,386.6 611.0,383.0 C611.5,379.4 611.0,373.5 610.1,371.0 C609.2,368.5 607.0,366.9 605.4,368.0Z"/><path d="M610.0,507.5 C612.7,506.2 616.3,507.6 618.0,510.0 C619.7,512.4 620.3,517.7 620.0,522.0 C619.7,526.3 618.0,532.8 616.0,536.0 C614.0,539.2 610.3,541.7 608.0,541.0 C605.7,540.3 603.0,535.8 602.0,532.0 C601.0,528.2 600.7,522.1 602.0,518.0 C603.3,513.9 607.3,508.8 610.0,507.5Z"/><path d="M610.0,542.5 C612.7,541.5 617.5,546.6 620.0,552.0 C622.5,557.4 624.7,567.3 625.0,575.0 C625.3,582.7 623.3,593.8 622.0,598.0 C620.7,602.2 619.2,603.0 617.0,600.0 C614.8,597.0 611.2,587.0 609.0,580.0 C606.8,573.0 603.8,564.2 604.0,558.0 C604.2,551.8 607.3,543.5 610.0,542.5Z"/><path d="M623.0,601.5 C625.0,601.5 628.5,602.1 630.0,606.0 C631.5,609.9 631.4,618.6 632.0,625.0 C632.6,631.4 634.6,643.4 633.6,644.6 C632.6,645.8 628.4,636.4 626.0,632.0 C623.6,627.6 620.3,622.3 619.0,618.0 C617.7,613.7 617.3,608.8 618.0,606.0 C618.7,603.2 621.0,601.5 623.0,601.5Z"/><path d="M637.9,665.7 C639.3,665.2 644.0,672.0 646.8,676.8 C649.6,681.6 654.6,691.5 654.6,694.7 C654.6,697.9 649.5,695.6 647.0,696.0 C644.5,696.4 640.9,699.6 639.5,696.9 C638.1,694.2 638.8,685.2 638.5,680.0 C638.2,674.8 636.5,666.2 637.9,665.7Z"/><path d="M622.8,218.7 C623.8,219.3 627.4,220.9 628.7,222.6 C630.0,224.2 630.5,226.9 630.7,228.6 C630.9,230.2 630.5,231.5 629.7,232.5 C628.9,233.5 626.7,233.2 625.7,234.5 C624.7,235.8 624.6,238.4 623.8,240.4 C623.0,242.4 622.1,245.1 620.8,246.4 C619.5,247.7 616.6,248.1 615.8,248.4"/><path d="M636.6,230.5 C637.4,231.0 640.8,233.0 641.6,233.5"/><path d="M636.6,230.5 C636.0,231.1 634.1,233.7 633.0,234.0 C631.9,234.3 630.2,232.8 629.7,232.5"/><path d="M629.7,232.5 C630.2,233.0 631.8,234.2 632.7,235.5 C633.6,236.8 634.8,238.1 635.1,240.4 C635.4,242.7 635.1,246.8 634.7,249.4 C634.3,252.1 633.7,255.5 632.7,256.3 C631.7,257.1 629.7,254.1 628.7,254.3 C627.7,254.5 626.7,256.0 626.7,257.3 C626.7,258.6 627.5,261.7 628.7,262.2 C629.9,262.7 632.2,260.8 633.7,260.2 C635.2,259.6 637.0,258.6 637.6,258.3"/><path d="M636.8,271.4 C635.9,271.6 632.9,271.1 631.2,272.4 C629.5,273.6 627.7,276.3 626.6,278.9 C625.5,281.5 625.0,285.0 624.7,288.1 C624.4,291.2 625.0,295.2 624.7,297.4 C624.4,299.6 623.7,300.2 622.9,301.1 C622.1,302.0 620.6,302.7 620.1,303.0"/><path d="M613.6,249.1 C613.3,250.3 611.6,252.3 611.7,256.6 C611.8,260.9 613.4,269.4 614.0,275.0 C614.6,280.6 615.0,285.6 615.5,290.0 C616.0,294.4 617.0,299.2 617.3,301.1"/><path d="M611.7,256.6 C611.1,257.5 609.3,259.8 608.0,262.0 C606.7,264.2 604.7,268.7 604.0,270.0"/><path d="M611.7,343.8 C610.8,343.2 607.8,339.5 606.0,340.0 C604.2,340.5 602.3,344.5 601.0,347.0 C599.7,349.5 598.5,353.7 598.0,355.0"/><path d="M606.0,340.0 C606.3,341.8 607.2,347.3 608.0,351.0 C608.8,354.7 609.7,359.2 610.8,362.4 C611.9,365.6 614.1,368.7 614.7,370.0"/><path d="M619.1,358.7 C618.6,359.6 616.7,362.1 616.0,364.0 C615.3,365.9 615.2,367.1 614.7,370.0 C614.2,372.9 613.2,377.1 612.9,381.1 C612.6,385.1 612.3,390.9 612.9,394.1 C613.5,397.4 614.6,399.4 616.6,400.6 C618.6,401.9 623.5,401.4 624.9,401.6"/><path d="M594.3,397.9 C595.5,398.2 599.4,398.6 601.7,399.7 C604.0,400.8 606.8,402.8 608.2,404.4 C609.6,405.9 610.6,407.3 610.1,409.0 C609.6,410.7 607.3,412.9 605.4,414.6 C603.5,416.3 600.3,417.4 598.9,419.2 C597.5,421.0 597.4,423.4 597.1,425.7 C596.8,428.0 597.1,431.9 597.1,433.1"/><path d="M624.9,404.4 C624.0,404.1 621.2,402.1 619.4,402.5 C617.5,402.9 614.9,404.5 613.8,407.1 C612.7,409.7 612.8,415.2 612.9,418.3 C613.0,421.4 613.8,423.5 614.7,425.7 C615.6,427.9 618.7,429.4 618.4,431.3 C618.1,433.2 614.0,434.1 612.9,436.9 C611.8,439.7 612.8,444.3 611.9,448.0 C611.0,451.7 609.0,455.7 607.3,459.1 C605.6,462.5 602.9,464.7 601.7,468.4 C600.5,472.1 599.9,476.8 599.9,481.4 C599.9,486.0 601.1,489.9 601.7,496.3 C602.3,502.7 603.3,516.0 603.6,520.0"/><path d="M597.1,433.1 C598.1,435.4 601.0,442.4 603.0,447.0 C605.0,451.6 607.3,455.5 609.1,461.0 C610.9,466.5 612.6,473.5 614.0,480.0 C615.4,486.5 616.7,495.5 617.5,500.0 C618.3,504.5 618.8,505.8 619.0,507.0"/><path d="M597.1,433.1 C596.5,435.0 593.9,440.6 593.4,444.3 C592.9,448.0 593.4,451.7 594.3,455.4 C595.2,459.1 598.0,463.2 598.9,466.6 C599.8,470.0 600.2,472.7 599.9,475.8 C599.6,478.9 597.4,481.1 597.1,485.1 C596.8,489.1 597.2,494.2 598.0,500.0 C598.8,505.8 601.1,516.7 601.7,520.0"/><path d="M633.6,644.6 C634.0,646.3 635.3,651.5 636.0,655.0 C636.7,658.5 637.6,663.9 637.9,665.7"/><path d="M633.6,644.6 C634.5,647.7 636.8,658.0 639.0,663.4 C641.2,668.8 645.5,674.6 646.8,676.8"/><path d="M634.0,225.0 C634.3,225.9 634.8,229.2 636.0,230.6 C637.2,232.0 639.9,233.7 641.4,233.4 C642.9,233.1 644.4,229.7 645.0,229.0"/></g>
<path d="M608.2,136.2 C607.8,138.7 606.9,146.2 605.8,151.2 C604.8,156.2 603.4,161.2 601.9,166.2 C600.4,171.2 598.7,176.2 596.9,181.2 C595.0,186.2 593.0,191.2 590.9,196.2 C588.8,201.2 586.5,206.2 584.2,211.2 C582.0,216.2 579.6,221.2 577.1,226.2 C574.7,231.2 572.1,236.2 569.6,241.2 C567.0,246.2 564.4,251.2 561.7,256.2 C559.1,261.2 556.4,266.2 553.6,271.2 C550.8,276.2 548.0,281.2 545.2,286.2 C542.3,291.2 539.4,296.2 536.5,301.2 C533.5,306.2 530.5,311.2 527.4,316.2 C524.4,321.2 521.2,326.2 518.0,331.2 C514.8,336.2 511.5,341.2 508.1,346.2 C504.8,351.2 501.3,356.2 497.8,361.2 C494.3,366.2 490.6,371.2 486.9,376.2 C483.2,381.2 479.4,386.2 475.5,391.2 C471.6,396.2 467.6,401.2 463.5,406.2 C459.4,411.2 455.2,416.2 451.0,421.2 C446.7,426.2 442.3,431.2 437.9,436.2 C433.5,441.2 429.0,446.2 424.5,451.2 C420.0,456.2 415.4,461.2 410.9,466.2 C406.3,471.2 401.7,476.2 397.2,481.2 C392.7,486.2 388.1,491.2 383.7,496.2 C379.3,501.2 375.0,506.2 370.8,511.2 C366.7,516.2 361.4,523.0 358.8,526.2 C356.3,529.5 358.0,527.2 355.5,530.7 C353.0,534.2 347.6,541.5 344.0,547.0 C340.4,552.5 335.8,560.4 334.0,563.4 C332.2,566.4 333.6,564.7 333.5,565.0 C332.7,565.1 330.7,564.8 328.6,565.6 C326.5,566.4 323.0,568.0 321.1,569.9 C319.2,571.8 318.1,574.8 317.4,577.3 C316.7,579.8 316.4,582.3 316.8,584.8 C317.2,587.3 318.3,589.7 319.9,592.2 C321.4,594.7 324.7,597.3 326.1,599.6 C327.6,601.9 328.2,604.8 328.6,605.8 C328.9,608.5 329.6,616.1 330.4,621.9 C331.2,627.7 332.4,634.0 333.5,640.4 C334.6,646.8 334.1,652.4 336.9,660.0 C339.6,667.6 342.8,674.7 350.0,686.0 C357.2,697.3 368.3,717.0 380.0,728.0 C391.7,739.0 406.7,746.2 420.0,752.0 C433.3,757.8 446.7,760.3 460.0,762.7 C473.3,765.1 486.7,766.1 500.0,766.5 C513.3,766.9 530.0,765.5 540.0,765.0 C550.0,764.5 551.7,764.8 560.0,763.5 C568.3,762.2 580.8,759.9 590.0,757.0 C599.2,754.1 607.5,750.3 615.0,746.0 C622.5,741.7 629.2,736.0 635.0,731.0 C640.8,726.0 645.4,721.3 650.0,716.0 C654.6,710.7 659.4,703.6 662.9,699.0 C666.4,694.4 668.2,693.6 670.7,688.6 C673.2,683.6 676.9,672.0 678.1,668.7" fill="none" stroke="#111" stroke-width="1.45"/>
<path d="M619.4,136.2 C619.0,138.7 617.8,146.2 616.7,151.2 C615.6,156.2 614.3,161.2 612.8,166.2 C611.3,171.2 609.7,176.2 607.9,181.2 C606.1,186.2 604.2,191.2 602.2,196.2 C600.2,201.2 598.1,206.2 595.9,211.2 C593.7,216.2 591.4,221.2 589.1,226.2 C586.7,231.2 584.3,236.2 581.8,241.2 C579.3,246.2 576.7,251.2 574.1,256.2 C571.4,261.2 568.8,266.2 566.0,271.2 C563.3,276.2 560.5,281.2 557.6,286.2 C554.7,291.2 551.8,296.2 548.8,301.2 C545.8,306.2 542.8,311.2 539.7,316.2 C536.6,321.2 533.4,326.2 530.2,331.2 C526.9,336.2 523.6,341.2 520.2,346.2 C516.9,351.2 513.4,356.2 509.9,361.2 C506.3,366.2 502.7,371.2 499.1,376.2 C495.4,381.2 491.6,386.2 487.8,391.2 C484.0,396.2 480.1,401.2 476.1,406.2 C472.1,411.2 468.0,416.2 463.9,421.2 C459.8,426.2 455.6,431.2 451.3,436.2 C447.1,441.2 442.7,446.2 438.4,451.2 C434.0,456.2 429.6,461.2 425.2,466.2 C420.7,471.2 416.3,476.2 411.8,481.2 C407.3,486.2 402.8,491.2 398.4,496.2 C394.0,501.2 389.5,506.2 385.2,511.2 C380.8,516.2 376.5,521.2 372.3,526.2 C368.2,531.2 364.1,536.2 360.2,541.2 C356.3,546.2 351.3,553.0 349.0,556.2 C346.6,559.4 346.7,558.9 346.1,560.4 C345.5,561.9 344.7,564.2 345.3,565.0 C345.9,565.8 349.1,564.9 349.8,564.9" fill="none" stroke="#111" stroke-width="1.85"/>
<path d="M340.9,602.0 C340.4,601.7 338.9,599.8 337.8,600.2 C336.7,600.6 334.8,602.0 334.1,604.6 C333.4,607.2 333.2,611.2 333.5,615.7 C333.8,620.2 335.0,626.6 336.0,631.8 C337.0,636.9 338.2,641.9 339.7,646.6 C341.1,651.3 342.0,653.4 344.7,660.0 C347.4,666.6 350.1,676.9 356.0,686.0 C361.9,695.1 369.3,705.7 380.0,714.7 C390.7,723.7 406.7,733.6 420.0,740.0 C433.3,746.4 446.7,749.9 460.0,752.8 C473.3,755.7 486.7,757.0 500.0,757.3 C513.3,757.6 530.0,755.3 540.0,754.7 C550.0,754.1 551.7,754.8 560.0,753.5 C568.3,752.2 581.7,749.2 590.0,747.0 C598.3,744.8 603.3,743.2 610.0,740.0 C616.7,736.8 623.3,732.8 630.0,728.0 C636.7,723.2 645.1,716.0 650.0,711.0 C654.9,706.0 656.5,702.3 659.5,698.1 C662.5,693.9 665.2,690.6 668.1,686.0 C671.0,681.4 675.1,673.4 676.8,670.4 C678.5,667.4 677.9,668.4 678.1,668.0" fill="none" stroke="#111" stroke-width="1.85"/>
<path d="M608.3,136.2 L691.5,136.2" stroke="#111" stroke-width="2" fill="none"/>
<path d="M690.9,136.0 C690.7,146.7 689.9,186.2 689.5,200.0 C689.1,213.8 689.1,202.3 688.6,219.0 C688.1,235.7 687.3,276.5 686.7,300.0 C686.1,323.5 685.7,336.7 685.0,360.0 C684.3,383.3 683.4,410.0 682.7,440.0 C682.0,470.0 681.2,513.3 680.7,540.0 C680.2,566.7 679.9,584.0 679.5,600.0 C679.1,616.0 678.5,624.6 678.3,636.0 C678.1,647.4 678.1,662.8 678.1,668.1" fill="none" stroke="#111" stroke-width="1.6"/>
<path d="M679.9,136.5 C679.3,141.2 677.6,156.4 676.5,165.0 C675.4,173.6 673.7,184.2 673.1,188.0" fill="none" stroke="#111" stroke-width="1.3"/>
<path d="M660.7,255.0 C660.2,259.5 658.5,273.1 657.5,282.0 C656.5,290.9 655.3,303.9 654.9,308.3" fill="none" stroke="#111" stroke-width="1.3"/>
<path d="M647.8,390.3 C647.6,395.2 647.0,409.5 646.8,420.0 C646.6,430.5 646.7,447.8 646.7,453.3" fill="none" stroke="#111" stroke-width="1.3"/>
<path d="M648.7,533.0 C649.2,538.7 650.8,555.6 652.0,567.0 C653.2,578.4 655.1,595.5 655.7,601.2" fill="none" stroke="#111" stroke-width="1.3"/>
<path d="M662.0,669.7 C662.6,670.9 664.4,674.5 665.5,677.0 C666.6,679.5 667.9,683.7 668.4,685.0" fill="none" stroke="#111" stroke-width="1.3"/>
<path d="M673.1,188.0 C674.4,188.2 675.5,190.8 676.5,193.0 C677.5,195.2 678.8,196.9 679.1,200.9 C679.4,204.9 679.2,212.2 678.4,217.2 C677.6,222.2 676.0,226.7 674.4,230.8 C672.8,234.9 670.7,238.5 668.9,241.7 C667.1,244.9 664.9,247.8 663.5,249.9 C662.1,252.0 661.7,255.0 660.7,254.5 C659.7,254.0 658.4,249.9 657.3,247.1 C656.2,244.3 654.7,241.0 653.9,237.6 C653.1,234.2 652.5,230.5 652.6,226.7 C652.7,222.8 652.8,218.8 654.6,214.5 C656.4,210.2 661.1,204.7 663.5,200.9 C665.9,197.2 667.4,194.2 669.0,192.0 C670.6,189.8 671.9,187.8 673.1,188.0Z" fill="#f7f7f7" stroke="#111" stroke-width="1.3"/>
<path d="M654.6,308.5 C656.9,309.1 659.5,310.1 661.4,314.9 C663.3,319.7 665.7,329.3 666.3,337.1 C666.9,344.9 666.3,355.3 665.1,361.9 C663.9,368.5 661.4,372.6 658.9,376.7 C656.4,380.8 652.1,384.2 650.2,386.6 C648.4,389.0 648.6,391.8 647.8,391.0 C647.0,390.2 646.8,385.7 645.3,381.7 C643.8,377.7 640.5,372.2 639.1,366.8 C637.7,361.4 637.1,355.7 637.1,349.5 C637.1,343.3 637.3,336.1 639.1,329.7 C640.9,323.3 645.2,314.6 647.8,311.1 C650.4,307.6 652.3,307.9 654.6,308.5Z" fill="#f7f7f7" stroke="#111" stroke-width="1.3"/>
<path d="M646.7,453.3 C648.7,453.1 650.0,453.8 652.0,456.0 C654.0,458.2 656.9,462.7 658.7,466.7 C660.5,470.7 661.9,475.1 662.7,480.0 C663.5,484.9 663.5,490.7 663.3,496.0 C663.1,501.3 662.5,507.6 661.3,512.0 C660.1,516.5 657.9,519.6 656.0,522.7 C654.1,525.8 651.3,528.8 650.0,530.7 C648.7,532.6 648.7,534.0 648.0,534.0 C647.3,534.0 647.1,532.6 646.0,530.7 C644.9,528.8 643.0,525.8 641.3,522.7 C639.6,519.6 637.4,516.5 636.0,512.0 C634.6,507.6 633.3,501.3 632.7,496.0 C632.1,490.7 632.0,484.9 632.3,480.0 C632.6,475.1 633.4,470.5 634.7,466.7 C636.0,462.9 638.0,459.5 640.0,457.3 C642.0,455.1 644.7,453.5 646.7,453.3Z" fill="#f7f7f7" stroke="#111" stroke-width="1.3"/>
<path d="M655.2,601.5 C657.9,602.0 661.0,604.2 663.4,608.9 C665.8,613.6 667.9,623.3 669.3,629.7 C670.6,636.1 671.5,642.5 671.5,647.5 C671.5,652.5 670.4,656.4 669.3,659.4 C668.2,662.4 665.9,663.6 664.8,665.4 C663.7,667.2 663.6,670.0 662.6,670.2 C661.6,670.5 660.8,668.7 658.9,666.9 C657.0,665.1 653.7,663.6 651.5,659.4 C649.3,655.2 646.8,648.5 645.5,641.6 C644.2,634.7 643.8,623.7 644.0,617.8 C644.2,611.9 645.1,608.7 647.0,606.0 C648.9,603.3 652.5,601.0 655.2,601.5Z" fill="#f7f7f7" stroke="#111" stroke-width="1.3"/>
<path d="M650.1,139.6 C652.9,139.4 655.9,140.6 658.2,142.1 C660.4,143.7 662.3,146.3 663.4,148.8 C664.6,151.3 665.0,154.0 664.9,157.0 C664.8,160.0 664.1,163.4 663.1,166.9 C662.0,170.3 660.4,174.4 658.6,177.9 C656.8,181.5 654.5,185.3 652.3,188.1 C650.0,190.8 647.6,193.2 645.3,194.6 C643.0,196.0 640.7,196.7 638.4,196.5 C636.1,196.2 633.6,195.0 631.6,193.0 C629.6,191.1 627.6,188.1 626.5,184.9 C625.3,181.7 624.7,177.6 624.8,173.8 C624.9,170.0 625.7,165.8 627.1,162.1 C628.4,158.4 630.6,154.8 633.0,151.6 C635.3,148.5 638.3,145.4 641.2,143.4 C644.0,141.4 647.2,139.8 650.1,139.6Z" fill="#ffffff" stroke="#111" stroke-width="1.5"/>
<g fill="#666666"><path d="M353,571.5 L377,571.5 L377,597 L353,597 A12.75,12.75 0 0 1 353,571.5Z"/><circle cx="377" cy="585.5" r="16.5"/><path d="M378,580 L420,549.3" stroke="#666666" stroke-width="8.5" fill="none"/><path d="M380,586 L488,568" stroke="#666666" stroke-width="8.5" fill="none"/><path d="M380,592 L472,609" stroke="#666666" stroke-width="8.5" fill="none"/><path d="M376,592 L445,660" stroke="#666666" stroke-width="8.5" fill="none"/></g>
<g fill="#999999" stroke="#2a2a2a" stroke-width="0.95"><polygon points="452.5,505.5 471.0,514.8 473.2,533.0 459.8,546.5 441.2,551.5 423.2,545.5 423.5,528.5 432.2,512.5" stroke="none"/><ellipse cx="452.5" cy="506.2" rx="10.2" ry="7.9" transform="rotate(-20 452.5 506.2)"/><ellipse cx="469.9" cy="514.8" rx="10.3" ry="7.9" transform="rotate(-20 469.9 514.8)"/><ellipse cx="469.4" cy="533.0" rx="11.9" ry="9.1" transform="rotate(-20 469.4 533.0)"/><ellipse cx="458.6" cy="546.9" rx="10.1" ry="7.8" transform="rotate(-20 458.6 546.9)"/><ellipse cx="441.2" cy="549.8" rx="11.5" ry="8.9" transform="rotate(-20 441.2 549.8)"/><ellipse cx="425.8" cy="546.0" rx="13.1" ry="10.1" transform="rotate(-20 425.8 546.0)"/><ellipse cx="426.6" cy="528.5" rx="11.9" ry="9.1" transform="rotate(-20 426.6 528.5)"/><ellipse cx="431.8" cy="512.6" rx="9.5" ry="7.3" transform="rotate(-20 431.8 512.6)"/><ellipse cx="442.2" cy="517.5" rx="11.7" ry="9.0" transform="rotate(-30 442.2 517.5)"/><ellipse cx="461.2" cy="519.0" rx="9.2" ry="7.0" transform="rotate(-30 461.2 519.0)"/><ellipse cx="456.0" cy="534.5" rx="11.3" ry="8.7" transform="rotate(-30 456.0 534.5)"/><ellipse cx="437.5" cy="537.2" rx="12.6" ry="9.7" transform="rotate(-30 437.5 537.2)"/></g>
<g fill="#999999" stroke="#2a2a2a" stroke-width="0.95"><polygon points="521.5,529.8 538.8,542.0 538.2,560.0 521.8,570.5 503.0,572.2 486.0,565.8 489.8,550.0 500.8,532.5" stroke="none"/><ellipse cx="521.5" cy="530.6" rx="10.8" ry="8.3" transform="rotate(-20 521.5 530.6)"/><ellipse cx="536.5" cy="542.0" rx="11.3" ry="8.7" transform="rotate(-20 536.5 542.0)"/><ellipse cx="534.9" cy="560.0" rx="11.9" ry="9.1" transform="rotate(-20 534.9 560.0)"/><ellipse cx="521.8" cy="571.0" rx="10.0" ry="7.7" transform="rotate(-20 521.8 571.0)"/><ellipse cx="503.0" cy="569.3" rx="12.8" ry="9.9" transform="rotate(-20 503.0 569.3)"/><ellipse cx="488.7" cy="565.8" rx="8.4" ry="6.5" transform="rotate(-20 488.7 565.8)"/><ellipse cx="494.0" cy="550.0" rx="14.4" ry="11.1" transform="rotate(-20 494.0 550.0)"/><ellipse cx="500.2" cy="534.4" rx="10.5" ry="8.1" transform="rotate(-20 500.2 534.4)"/><ellipse cx="510.2" cy="540.2" rx="12.4" ry="9.5" transform="rotate(-30 510.2 540.2)"/><ellipse cx="528.0" cy="544.5" rx="10.2" ry="7.8" transform="rotate(-30 528.0 544.5)"/><ellipse cx="520.5" cy="558.2" rx="12.0" ry="9.2" transform="rotate(-30 520.5 558.2)"/><ellipse cx="502.0" cy="558.5" rx="12.9" ry="9.9" transform="rotate(-30 502.0 558.5)"/></g>
<g fill="#999999" stroke="#2a2a2a" stroke-width="0.95"><polygon points="496.2,595.0 517.5,601.2 529.2,618.2 519.5,633.8 500.5,640.0 483.5,631.8 470.5,619.8 480.5,606.8" stroke="none"/><ellipse cx="496.2" cy="598.6" rx="12.0" ry="9.3" transform="rotate(-20 496.2 598.6)"/><ellipse cx="517.4" cy="600.8" rx="9.8" ry="7.5" transform="rotate(-20 517.4 600.8)"/><ellipse cx="525.2" cy="618.2" rx="11.6" ry="8.9" transform="rotate(-20 525.2 618.2)"/><ellipse cx="518.4" cy="634.2" rx="10.4" ry="8.0" transform="rotate(-20 518.4 634.2)"/><ellipse cx="500.5" cy="637.0" rx="11.3" ry="8.7" transform="rotate(-20 500.5 637.0)"/><ellipse cx="482.9" cy="631.2" rx="11.7" ry="9.0" transform="rotate(-20 482.9 631.2)"/><ellipse cx="473.8" cy="619.8" rx="9.1" ry="7.0" transform="rotate(-20 473.8 619.8)"/><ellipse cx="481.5" cy="606.8" rx="12.8" ry="9.9" transform="rotate(-20 481.5 606.8)"/><ellipse cx="502.0" cy="606.5" rx="12.6" ry="9.7" transform="rotate(-30 502.0 606.5)"/><ellipse cx="515.5" cy="617.2" rx="11.1" ry="8.5" transform="rotate(-30 515.5 617.2)"/><ellipse cx="503.2" cy="626.0" rx="12.2" ry="9.4" transform="rotate(-30 503.2 626.0)"/><ellipse cx="487.5" cy="619.2" rx="12.7" ry="9.8" transform="rotate(-30 487.5 619.2)"/></g>
<g fill="#999999" stroke="#2a2a2a" stroke-width="0.95"><polygon points="464.9,650.6 483.4,658.8 491.6,677.9 482.6,696.9 464.9,700.9 450.8,687.8 445.0,670.4 450.5,656.3" stroke="none"/><ellipse cx="464.9" cy="655.1" rx="13.7" ry="10.5" transform="rotate(-55 464.9 655.1)"/><ellipse cx="482.6" cy="658.3" rx="9.6" ry="7.4" transform="rotate(-55 482.6 658.3)"/><ellipse cx="489.5" cy="677.9" rx="10.9" ry="8.4" transform="rotate(-55 489.5 677.9)"/><ellipse cx="483.1" cy="696.8" rx="9.6" ry="7.4" transform="rotate(-55 483.1 696.8)"/><ellipse cx="464.9" cy="698.3" rx="11.3" ry="8.7" transform="rotate(-55 464.9 698.3)"/><ellipse cx="450.3" cy="687.6" rx="10.0" ry="7.7" transform="rotate(-55 450.3 687.6)"/><ellipse cx="447.6" cy="670.4" rx="11.9" ry="9.2" transform="rotate(-55 447.6 670.4)"/><ellipse cx="450.0" cy="657.9" rx="11.8" ry="9.1" transform="rotate(-55 450.0 657.9)"/><ellipse cx="458.9" cy="665.0" rx="13.1" ry="10.1" transform="rotate(-55 458.9 665.0)"/><ellipse cx="478.5" cy="669.1" rx="11.6" ry="9.0" transform="rotate(-55 478.5 669.1)"/><ellipse cx="478.2" cy="686.2" rx="10.5" ry="8.1" transform="rotate(-55 478.2 686.2)"/><ellipse cx="462.6" cy="683.8" rx="11.3" ry="8.7" transform="rotate(-55 462.6 683.8)"/></g>
<path d="M355.5,530 Q336,541.5 333.5,564 Q344,547 355.5,530 Z" fill="#111" stroke="#111" stroke-width="1"/>
<path d="M328.6,606 Q318.5,626 333.5,650 Q330,628 328.6,606 Z" fill="#111" stroke="#111" stroke-width="1"/>
<text transform="translate(186.4 166.1) scale(0.840 1)" x="0" y="0" font-size="20" textLength="98.7" lengthAdjust="spacing" fill="#0d0d0d" stroke="#0d0d0d" stroke-width="0.8">collarbone</text>
<circle cx="281.3" cy="160.6" r="3.5" fill="#111"/>
<path d="M281.3,160.6 L643.8,160.6" stroke="#111" stroke-width="1.7"/>
<text transform="translate(143.3 217.9) scale(0.840 1)" x="0" y="0" font-size="20" textLength="150.0" lengthAdjust="spacing" fill="#0d0d0d" stroke="#0d0d0d" stroke-width="0.8">pectoral muscle</text>
<circle cx="281.3" cy="212.4" r="3.5" fill="#111"/>
<path d="M281.3,212.4 L628.0,212.4" stroke="#111" stroke-width="1.7"/>
<text transform="translate(133.6 314.8) scale(0.840 1)" x="0" y="0" font-size="20" textLength="163.6" lengthAdjust="spacing" fill="#0d0d0d" stroke="#0d0d0d" stroke-width="0.8">connective tissue</text>
<circle cx="283.0" cy="309.6" r="3.5" fill="#111"/>
<path d="M283.0,309.6 L570.5,309.6" stroke="#111" stroke-width="1.7"/>
<text transform="translate(181.0 363.4) scale(0.840 1)" x="0" y="0" font-size="20" textLength="104.8" lengthAdjust="spacing" fill="#0d0d0d" stroke="#0d0d0d" stroke-width="0.8">fatty tissue</text>
<circle cx="281.3" cy="358.4" r="3.5" fill="#111"/>
<path d="M281.3,358.4 L554.2,358.4" stroke="#111" stroke-width="1.7"/>
<text transform="translate(220.5 550.4) scale(0.840 1)" x="0" y="0" font-size="20" textLength="58.3" lengthAdjust="spacing" fill="#0d0d0d" stroke="#0d0d0d" stroke-width="0.8">areola</text>
<circle cx="281.3" cy="545.0" r="3.5" fill="#111"/>
<path d="M281.3,545.0 L341.4,545.0" stroke="#111" stroke-width="1.7"/>
<text transform="translate(220.5 590.0) scale(0.840 1)" x="0" y="0" font-size="20" textLength="58.9" lengthAdjust="spacing" fill="#0d0d0d" stroke="#0d0d0d" stroke-width="0.8">nipple</text>
<circle cx="281.3" cy="584.4" r="3.5" fill="#111"/>
<path d="M281.3,584.4 L317.5,584.4" stroke="#111" stroke-width="1.7"/>
<text transform="translate(236.4 629.4) scale(0.840 1)" x="0" y="0" font-size="20" textLength="40.0" lengthAdjust="spacing" fill="#0d0d0d" stroke="#0d0d0d" stroke-width="0.8">duct</text>
<circle cx="281.3" cy="623.8" r="3.5" fill="#111"/>
<path d="M281.3,623.8 L406.0,623.8" stroke="#111" stroke-width="1.7"/>
<text transform="translate(213.4 678.2) scale(0.840 1)" x="0" y="0" font-size="20" textLength="67.7" lengthAdjust="spacing" fill="#0d0d0d" stroke="#0d0d0d" stroke-width="0.8">lobules</text>
<circle cx="281.3" cy="672.9" r="3.5" fill="#111"/>
<path d="M281.3,672.9 L444.0,672.9" stroke="#111" stroke-width="1.7"/>
<text transform="translate(238.6 732.7) scale(0.840 1)" x="0" y="0" font-size="20" textLength="37.7" lengthAdjust="spacing" fill="#0d0d0d" stroke="#0d0d0d" stroke-width="0.8">skin</text>
<circle cx="281.3" cy="727.4" r="3.5" fill="#111"/>
<path d="M281.3,727.4 L385.6,727.4" stroke="#111" stroke-width="1.7"/>
<text transform="translate(737.3 496.6) scale(0.840 1)" x="0" y="0" font-size="20" textLength="32.9" lengthAdjust="spacing" fill="#0d0d0d" stroke="#0d0d0d" stroke-width="0.8">ribs</text>
<circle cx="725.8" cy="491" r="3.5" fill="#111"/>
<path d="M661.7,219.4 L726,219.4 L726,636.7 L655.7,636.7 M656.3,343 L726,343 M652,491 L726,491" stroke="#111" stroke-width="1.8" fill="none"/>
<text transform="translate(455.5 59.4) scale(0.840 1)" x="0" y="0" font-size="22" textLength="120.8" lengthAdjust="spacing" fill="#0d0d0d" stroke="#0d0d0d" stroke-width="0.8">The Breast</text>
</svg>
</body></html>
